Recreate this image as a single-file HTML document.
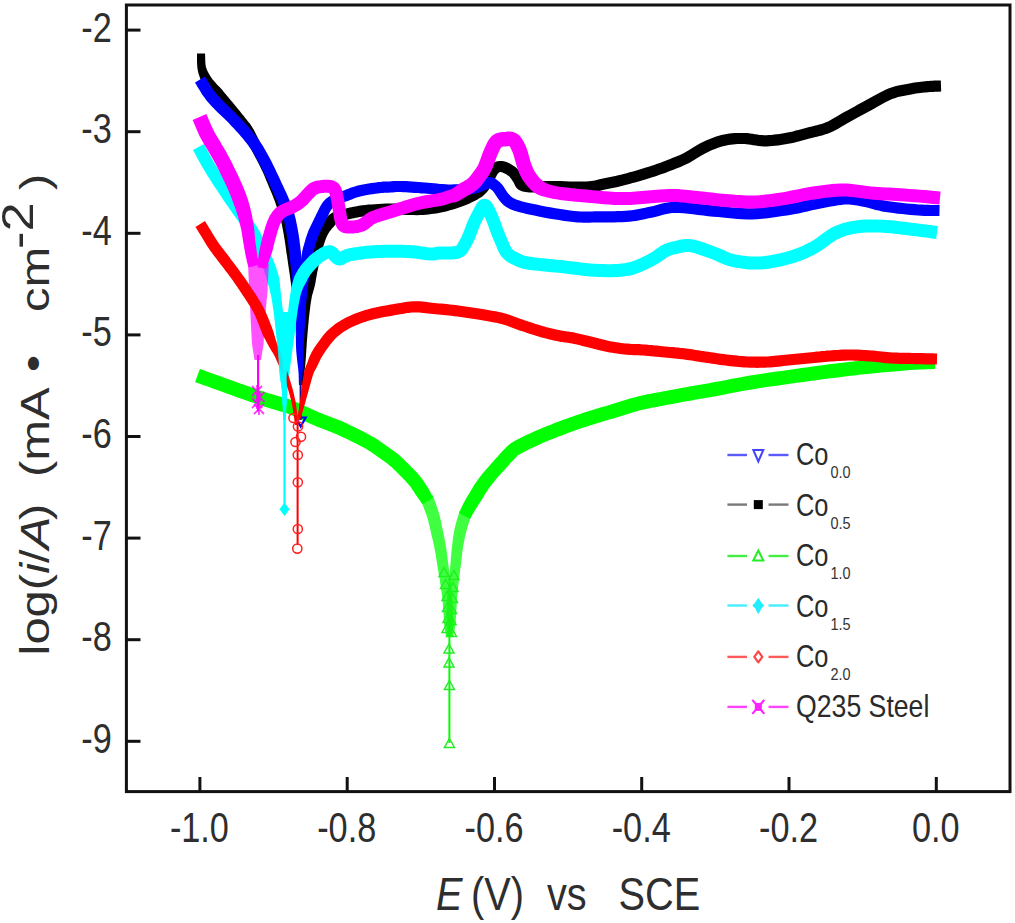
<!DOCTYPE html>
<html><head><meta charset="utf-8"><style>
html,body{margin:0;padding:0;background:#fff;}
svg{display:block;}
text{font-family:"Liberation Sans",sans-serif;fill:#2e2e2e;}
.t{font-size:42.3px;}
.xt{font-size:45.5px;}
.yt{font-size:41.5px;}
.lg{font-size:31px;fill:#2a2a2a;}
.lgs{font-size:17px;fill:#333;}
</style></head><body>
<svg width="1015" height="923" viewBox="0 0 1015 923">
<rect width="1015" height="923" fill="#fff"/>
<path d="M195.1,382.1 L197.0,382.8 L199.4,383.6 L202.3,384.7 L205.5,385.8 L209.0,387.1 L212.7,388.4 L216.4,389.8 L220.1,391.1 L224.0,392.5 L228.1,394.0 L232.5,395.6 L236.9,397.2 L241.4,398.8 L245.8,400.3 L249.9,401.8 L253.8,403.1 L257.4,404.3 L260.9,405.5 L264.2,406.5 L267.4,407.5 L270.4,408.4 L273.2,409.2 L275.7,410.0 L278.0,410.7 L279.9,411.3 L281.5,411.7 L282.6,411.9 L283.3,412.1 L283.8,412.2 L284.5,412.4 L285.6,412.8 L287.3,413.5 L289.7,414.5 L292.5,415.7 L295.7,417.1 L299.1,418.7 L302.6,420.3 L306.3,422.0 L309.8,423.6 L313.3,425.0 L316.6,426.4 L320.0,427.7 L323.2,429.0 L326.5,430.2 L329.7,431.5 L332.9,432.7 L336.0,434.0 L339.1,435.4 L342.4,436.9 L345.8,438.5 L349.2,440.2 L352.7,441.9 L356.0,443.6 L359.2,445.2 L362.1,446.7 L364.6,448.1 L366.7,449.3 L368.5,450.4 L370.0,451.3 L371.4,452.2 L372.7,453.2 L374.0,454.1 L375.4,455.1 L377.0,456.2 L378.7,457.4 L380.3,458.5 L381.9,459.7 L383.6,460.8 L385.2,462.0 L386.7,463.1 L388.1,464.3 L389.5,465.4 L390.8,466.5 L392.1,467.6 L393.3,468.8 L394.5,469.9 L395.8,471.1 L397.0,472.4 L398.2,473.6 L399.5,474.9 L400.8,476.3 L402.2,477.6 L403.5,478.9 L404.8,480.3 L406.0,481.6 L407.2,482.9 L408.4,484.2 L409.4,485.4 L410.3,486.6 L411.2,487.8 L412.0,489.0 L412.8,490.2 L413.7,491.5 L414.5,492.7 L415.3,494.0 L416.1,495.3 L417.0,496.5 L417.9,497.7 L418.8,499.0 L419.7,500.3 L420.5,501.5 L421.3,502.6 L421.9,503.5 L422.4,504.2 L433.2,497.8 L432.8,497.0 L432.3,496.0 L431.7,494.8 L431.0,493.5 L430.3,492.1 L429.5,490.6 L428.7,489.1 L427.9,487.7 L427.1,486.5 L426.3,485.2 L425.4,483.9 L424.5,482.5 L423.6,481.0 L422.5,479.6 L421.4,478.1 L420.2,476.6 L419.0,475.1 L417.7,473.6 L416.3,472.1 L414.9,470.6 L413.5,469.2 L412.2,467.8 L410.8,466.4 L409.5,465.1 L408.2,463.8 L406.9,462.5 L405.6,461.2 L404.3,459.9 L402.9,458.6 L401.5,457.3 L400.0,455.9 L398.5,454.6 L396.8,453.3 L395.2,452.0 L393.5,450.7 L391.7,449.5 L390.0,448.2 L388.3,447.1 L386.6,445.9 L385.0,444.8 L383.5,443.7 L382.1,442.7 L380.7,441.7 L379.3,440.7 L377.6,439.6 L375.8,438.5 L373.8,437.2 L371.4,435.9 L368.7,434.4 L365.7,432.8 L362.4,431.1 L359.0,429.4 L355.4,427.6 L351.8,425.9 L348.3,424.2 L344.9,422.6 L341.5,421.1 L338.1,419.8 L334.8,418.4 L331.5,417.2 L328.3,415.9 L325.0,414.7 L321.9,413.4 L318.7,412.2 L315.5,410.7 L312.0,409.2 L308.4,407.6 L304.9,406.0 L301.5,404.4 L298.2,402.9 L295.3,401.6 L292.7,400.5 L290.6,399.7 L288.9,399.1 L287.6,398.7 L286.4,398.4 L285.5,398.2 L284.7,398.1 L283.7,397.8 L282.0,397.3 L279.8,396.6 L277.2,395.8 L274.5,395.0 L271.5,394.1 L268.4,393.2 L265.1,392.1 L261.7,391.0 L258.2,389.9 L254.5,388.6 L250.4,387.1 L246.1,385.6 L241.7,384.0 L237.2,382.4 L232.9,380.8 L228.7,379.3 L224.9,377.9 L221.2,376.6 L217.4,375.2 L213.8,373.9 L210.3,372.7 L207.0,371.5 L204.2,370.5 L201.7,369.6 L199.9,368.9 Z" fill="#00ff00" />
<path d="M470.1,518.9 L470.5,518.1 L471.2,517.0 L471.9,515.7 L472.7,514.3 L473.5,512.8 L474.3,511.4 L475.1,510.0 L475.9,508.8 L476.5,507.7 L477.2,506.7 L477.9,505.6 L478.6,504.5 L479.3,503.5 L480.0,502.4 L480.7,501.3 L481.5,500.1 L482.2,499.0 L482.9,497.8 L483.6,496.7 L484.2,495.6 L484.9,494.5 L485.5,493.4 L486.2,492.4 L486.8,491.4 L487.5,490.4 L488.2,489.3 L488.9,488.3 L489.7,487.3 L490.4,486.3 L491.2,485.3 L491.9,484.3 L492.7,483.3 L493.5,482.4 L494.2,481.4 L495.0,480.5 L495.9,479.5 L496.7,478.5 L497.5,477.6 L498.4,476.6 L499.2,475.6 L500.1,474.7 L500.9,473.8 L501.7,472.8 L502.6,471.9 L503.5,471.0 L504.3,470.0 L505.2,469.1 L506.1,468.1 L507.0,467.0 L507.9,466.0 L508.8,465.0 L509.6,464.0 L510.5,463.1 L511.3,462.2 L512.1,461.3 L513.0,460.4 L514.0,459.4 L514.9,458.4 L515.7,457.6 L516.3,456.9 L517.0,456.2 L517.8,455.6 L518.8,454.8 L520.1,454.0 L521.9,453.0 L523.9,451.9 L526.2,450.7 L528.6,449.5 L531.3,448.2 L534.0,446.9 L536.8,445.7 L539.6,444.4 L542.5,443.1 L545.6,441.8 L548.7,440.5 L551.9,439.2 L555.2,437.9 L558.5,436.6 L561.8,435.4 L565.0,434.2 L568.1,433.0 L571.3,431.8 L574.4,430.7 L577.6,429.6 L580.7,428.5 L583.8,427.4 L587.0,426.4 L590.1,425.4 L593.3,424.4 L596.5,423.4 L599.6,422.4 L602.8,421.5 L606.0,420.6 L609.2,419.6 L612.5,418.7 L615.7,417.7 L619.0,416.7 L622.2,415.7 L625.4,414.7 L628.6,413.7 L631.7,412.7 L634.8,411.8 L637.9,410.9 L641.0,410.1 L644.1,409.4 L647.2,408.7 L650.3,408.0 L653.5,407.4 L656.6,406.9 L659.8,406.3 L663.1,405.7 L666.3,405.1 L669.5,404.5 L672.7,403.9 L675.9,403.3 L679.0,402.7 L682.2,402.1 L685.4,401.5 L688.6,401.0 L691.7,400.4 L694.8,399.8 L697.9,399.3 L700.8,398.8 L703.9,398.3 L706.9,397.7 L710.2,397.2 L713.6,396.5 L717.3,395.9 L721.1,395.2 L725.0,394.4 L729.0,393.6 L733.2,392.8 L737.5,392.0 L742.1,391.1 L747.0,390.3 L752.1,389.4 L757.7,388.5 L763.8,387.6 L770.1,386.6 L776.7,385.7 L783.5,384.7 L790.2,383.8 L796.9,382.8 L803.5,381.9 L809.9,381.1 L816.3,380.2 L822.6,379.3 L829.0,378.5 L835.4,377.7 L841.8,376.9 L848.1,376.1 L854.5,375.4 L861.0,374.6 L867.7,373.9 L874.6,373.3 L881.3,372.6 L888.0,372.0 L894.3,371.4 L900.2,370.9 L905.5,370.5 L910.4,370.1 L915.1,369.8 L919.5,369.6 L923.5,369.4 L927.1,369.3 L930.4,369.2 L933.1,369.1 L935.3,369.0 L934.7,355.0 L932.6,355.1 L929.9,355.2 L926.6,355.3 L922.9,355.4 L918.8,355.6 L914.3,355.9 L909.5,356.2 L904.5,356.5 L899.0,357.0 L893.1,357.5 L886.7,358.0 L880.0,358.7 L873.2,359.3 L866.3,360.0 L859.5,360.7 L852.9,361.4 L846.5,362.2 L840.0,363.0 L833.6,363.8 L827.2,364.6 L820.8,365.4 L814.4,366.3 L808.0,367.2 L801.5,368.1 L795.0,369.0 L788.3,369.9 L781.5,370.9 L774.7,371.8 L768.1,372.8 L761.7,373.8 L755.6,374.7 L749.9,375.6 L744.6,376.5 L739.6,377.4 L735.0,378.2 L730.5,379.1 L726.4,379.9 L722.4,380.7 L718.5,381.4 L714.7,382.1 L711.1,382.8 L707.7,383.4 L704.5,383.9 L701.5,384.5 L698.4,385.0 L695.4,385.5 L692.4,386.0 L689.3,386.6 L686.1,387.2 L682.9,387.8 L679.7,388.3 L676.5,388.9 L673.3,389.5 L670.1,390.1 L666.9,390.7 L663.7,391.3 L660.5,391.9 L657.3,392.5 L654.1,393.1 L650.9,393.7 L647.6,394.3 L644.3,395.0 L641.0,395.7 L637.6,396.5 L634.3,397.4 L630.9,398.3 L627.7,399.3 L624.4,400.3 L621.2,401.3 L618.0,402.3 L614.8,403.3 L611.7,404.3 L608.5,405.2 L605.3,406.2 L602.1,407.1 L598.9,408.1 L595.6,409.0 L592.4,410.0 L589.1,411.0 L585.9,412.0 L582.6,413.1 L579.4,414.2 L576.2,415.3 L572.9,416.4 L569.7,417.5 L566.5,418.7 L563.3,419.8 L560.0,421.0 L556.8,422.3 L553.4,423.6 L550.1,424.9 L546.7,426.2 L543.4,427.6 L540.1,428.9 L537.0,430.3 L534.0,431.6 L531.0,432.9 L528.1,434.2 L525.3,435.6 L522.5,436.9 L519.9,438.2 L517.3,439.5 L515.0,440.8 L512.9,442.0 L510.9,443.3 L509.2,444.5 L507.8,445.7 L506.5,446.9 L505.5,448.0 L504.6,448.9 L503.8,449.7 L503.0,450.6 L502.0,451.6 L501.0,452.7 L500.0,453.8 L499.1,454.8 L498.2,455.9 L497.3,456.9 L496.5,457.8 L495.7,458.7 L494.9,459.6 L494.0,460.6 L493.1,461.5 L492.3,462.5 L491.4,463.4 L490.5,464.4 L489.6,465.4 L488.8,466.4 L487.9,467.4 L487.0,468.4 L486.1,469.4 L485.2,470.4 L484.4,471.4 L483.5,472.5 L482.6,473.6 L481.7,474.7 L480.9,475.8 L480.0,476.8 L479.2,477.9 L478.4,479.1 L477.6,480.2 L476.8,481.3 L476.0,482.5 L475.2,483.6 L474.4,484.8 L473.6,486.0 L472.9,487.2 L472.2,488.4 L471.5,489.5 L470.8,490.7 L470.2,491.8 L469.5,492.9 L468.9,493.9 L468.2,495.0 L467.6,496.1 L466.9,497.3 L466.2,498.4 L465.5,499.6 L464.8,500.9 L464.1,502.2 L463.4,503.6 L462.6,505.2 L461.9,506.8 L461.1,508.3 L460.4,509.8 L459.8,511.2 L459.3,512.3 L458.9,513.1 Z" fill="#00ff00" />
<path d="M420.4,499.3 L421.0,500.7 L421.7,502.5 L422.6,504.7 L423.5,507.2 L424.5,509.7 L425.4,512.2 L426.3,514.6 L427.0,516.8 L427.6,518.8 L428.2,520.8 L428.7,522.9 L429.2,524.9 L429.7,527.0 L430.2,529.0 L430.6,531.1 L431.1,533.3 L431.6,535.4 L432.1,537.5 L432.6,539.6 L433.1,541.7 L433.6,543.8 L434.0,545.9 L434.4,547.9 L434.8,550.0 L435.2,552.0 L435.6,554.1 L435.9,556.2 L436.2,558.3 L436.6,560.4 L436.9,562.5 L437.2,564.7 L437.6,566.8 L437.9,568.9 L438.3,571.1 L438.6,573.2 L439.0,575.3 L439.3,577.4 L439.7,579.5 L440.0,581.6 L440.3,583.7 L440.6,585.8 L440.9,587.8 L441.2,589.8 L441.5,591.7 L441.8,593.7 L442.0,595.8 L442.3,598.0 L442.5,600.4 L442.8,603.0 L443.0,606.0 L443.2,609.2 L443.4,612.5 L443.6,615.8 L443.8,618.9 L443.9,621.7 L444.1,624.2 L444.4,626.3 L444.6,628.3 L444.9,630.0 L445.1,631.6 L445.3,633.0 L445.6,634.2 L445.8,635.3 L446.0,636.1 L452.0,635.9 L452.2,635.1 L452.3,634.0 L452.5,632.8 L452.6,631.4 L452.8,629.8 L452.9,628.0 L453.0,626.0 L453.1,623.8 L453.1,621.4 L453.0,618.5 L453.0,615.4 L452.9,612.1 L452.8,608.8 L452.7,605.5 L452.6,602.4 L452.5,599.6 L452.3,597.1 L452.1,594.7 L451.9,592.5 L451.7,590.4 L451.4,588.4 L451.2,586.4 L451.0,584.4 L450.7,582.3 L450.4,580.1 L450.2,578.0 L449.9,575.8 L449.6,573.7 L449.3,571.6 L449.0,569.4 L448.7,567.3 L448.4,565.2 L448.2,563.1 L447.9,561.0 L447.6,558.9 L447.4,556.7 L447.1,554.6 L446.8,552.4 L446.5,550.2 L446.2,548.0 L445.8,545.8 L445.4,543.6 L445.0,541.5 L444.6,539.3 L444.2,537.1 L443.7,535.0 L443.3,532.8 L442.9,530.7 L442.4,528.6 L442.0,526.5 L441.6,524.4 L441.2,522.2 L440.7,520.0 L440.2,517.8 L439.6,515.5 L439.0,513.2 L438.2,510.7 L437.4,508.1 L436.4,505.4 L435.5,502.7 L434.6,500.2 L433.7,498.0 L433.1,496.1 L432.6,494.7 Z" fill="#00ff00" opacity="0.75"/>
<path d="M459.5,511.2 L459.2,512.5 L458.7,514.2 L458.0,516.3 L457.3,518.6 L456.6,521.1 L455.9,523.7 L455.2,526.2 L454.7,528.6 L454.2,530.8 L453.8,533.0 L453.5,535.2 L453.1,537.4 L452.8,539.6 L452.6,541.8 L452.3,544.0 L452.0,546.3 L451.8,548.6 L451.5,551.1 L451.3,553.5 L451.1,556.0 L450.9,558.4 L450.7,560.8 L450.5,563.2 L450.3,565.4 L450.1,567.6 L449.8,569.8 L449.6,571.9 L449.4,574.0 L449.2,576.1 L448.9,578.2 L448.7,580.3 L448.5,582.5 L448.3,584.6 L448.1,586.6 L447.9,588.6 L447.7,590.6 L447.5,592.7 L447.3,594.9 L447.2,597.2 L447.0,599.7 L446.9,602.5 L446.8,605.6 L446.8,608.8 L446.7,612.1 L446.7,615.4 L446.6,618.5 L446.6,621.3 L446.5,623.8 L446.6,625.9 L446.6,627.8 L446.7,629.6 L446.7,631.2 L446.8,632.6 L446.8,633.8 L446.9,634.9 L447.0,635.7 L453.0,636.3 L453.3,635.5 L453.5,634.5 L453.8,633.3 L454.2,631.8 L454.5,630.2 L454.8,628.4 L455.2,626.4 L455.5,624.2 L455.7,621.7 L455.9,618.9 L456.0,615.7 L456.2,612.5 L456.4,609.2 L456.6,606.0 L456.8,603.0 L457.0,600.3 L457.1,597.9 L457.3,595.6 L457.5,593.5 L457.7,591.5 L457.9,589.6 L458.1,587.6 L458.3,585.6 L458.5,583.5 L458.7,581.4 L459.0,579.4 L459.3,577.3 L459.6,575.2 L459.8,573.1 L460.1,571.0 L460.4,568.8 L460.7,566.6 L461.0,564.2 L461.3,561.9 L461.5,559.4 L461.8,557.0 L462.1,554.6 L462.3,552.3 L462.6,550.0 L463.0,547.7 L463.3,545.6 L463.7,543.5 L464.1,541.4 L464.5,539.3 L464.9,537.3 L465.3,535.4 L465.8,533.4 L466.3,531.4 L466.9,529.3 L467.6,527.0 L468.3,524.6 L469.0,522.2 L469.8,520.0 L470.5,517.9 L471.0,516.1 L471.5,514.8 Z" fill="#00ff00" opacity="0.75"/>
<line x1="449.4" y1="615" x2="449.4" y2="743" stroke="#00ff00" stroke-width="2"/>
<path d="M444.0,567.5 L449.0,576.5 L439.0,576.5 Z" fill="none" stroke="#22ee22" stroke-width="1.5"/>
<path d="M445.5,579.5 L450.5,588.5 L440.5,588.5 Z" fill="none" stroke="#22ee22" stroke-width="1.5"/>
<path d="M447.0,591.5 L452.0,600.5 L442.0,600.5 Z" fill="none" stroke="#22ee22" stroke-width="1.5"/>
<path d="M447.5,602.5 L452.5,611.5 L442.5,611.5 Z" fill="none" stroke="#22ee22" stroke-width="1.5"/>
<path d="M448.0,613.5 L453.0,622.5 L443.0,622.5 Z" fill="none" stroke="#22ee22" stroke-width="1.5"/>
<path d="M447.0,623.5 L452.0,632.5 L442.0,632.5 Z" fill="none" stroke="#22ee22" stroke-width="1.5"/>
<path d="M454.0,570.5 L459.0,579.5 L449.0,579.5 Z" fill="none" stroke="#22ee22" stroke-width="1.5"/>
<path d="M453.0,582.5 L458.0,591.5 L448.0,591.5 Z" fill="none" stroke="#22ee22" stroke-width="1.5"/>
<path d="M452.5,593.5 L457.5,602.5 L447.5,602.5 Z" fill="none" stroke="#22ee22" stroke-width="1.5"/>
<path d="M451.5,604.5 L456.5,613.5 L446.5,613.5 Z" fill="none" stroke="#22ee22" stroke-width="1.5"/>
<path d="M451.0,615.5 L456.0,624.5 L446.0,624.5 Z" fill="none" stroke="#22ee22" stroke-width="1.5"/>
<path d="M451.5,627.5 L456.5,636.5 L446.5,636.5 Z" fill="none" stroke="#22ee22" stroke-width="1.5"/>
<path d="M449.0,644.0 L454.0,653.0 L444.0,653.0 Z" fill="none" stroke="#22ee22" stroke-width="1.5"/>
<path d="M449.0,657.9 L454.0,666.9 L444.0,666.9 Z" fill="none" stroke="#22ee22" stroke-width="1.5"/>
<path d="M449.4,680.5 L454.4,689.5 L444.4,689.5 Z" fill="none" stroke="#22ee22" stroke-width="1.5"/>
<path d="M449.4,738.5 L454.4,747.5 L444.4,747.5 Z" fill="none" stroke="#22ee22" stroke-width="1.5"/>
<path d="M197.0,53.6 L197.0,54.6 L197.0,56.0 L197.0,57.8 L197.0,59.7 L197.0,61.8 L197.1,63.8 L197.2,65.8 L197.4,67.7 L197.6,69.3 L197.9,70.9 L198.3,72.4 L198.6,73.9 L199.1,75.3 L199.5,76.6 L200.0,77.9 L200.5,79.2 L201.1,80.5 L201.7,81.8 L202.4,83.1 L203.1,84.3 L203.8,85.5 L204.6,86.7 L205.3,87.8 L206.1,89.0 L207.1,90.1 L208.0,91.2 L209.0,92.3 L210.0,93.2 L210.9,94.2 L211.7,95.0 L212.5,95.9 L213.3,96.7 L214.0,97.6 L214.8,98.5 L215.6,99.4 L216.3,100.4 L217.1,101.3 L217.9,102.3 L218.7,103.3 L219.5,104.3 L220.3,105.2 L221.1,106.2 L221.9,107.1 L222.6,108.0 L223.4,108.9 L224.2,109.8 L224.9,110.7 L225.7,111.6 L226.5,112.5 L227.3,113.5 L228.1,114.5 L228.9,115.5 L229.7,116.5 L230.5,117.5 L231.3,118.5 L232.1,119.5 L232.9,120.5 L233.7,121.4 L234.5,122.4 L235.2,123.3 L235.9,124.2 L236.7,125.1 L237.4,126.0 L238.1,126.9 L238.8,127.9 L239.5,128.7 L240.2,129.5 L240.7,130.2 L241.3,131.0 L241.9,131.8 L242.5,132.7 L243.2,133.8 L244.0,135.2 L244.8,136.9 L245.8,138.7 L246.8,140.7 L247.8,142.8 L248.8,144.8 L249.8,146.7 L250.7,148.6 L251.6,150.2 L252.4,151.8 L253.2,153.3 L254.0,154.8 L254.8,156.2 L255.5,157.7 L256.3,159.1 L257.0,160.6 L257.8,162.1 L258.6,163.6 L259.3,165.1 L260.1,166.5 L260.8,168.0 L261.5,169.5 L262.2,170.9 L262.9,172.3 L263.5,173.7 L264.2,175.2 L264.7,176.6 L265.3,178.0 L265.9,179.5 L266.5,181.0 L267.2,182.5 L267.8,184.1 L268.5,185.8 L269.2,187.5 L270.0,189.2 L270.7,190.9 L271.4,192.6 L272.1,194.3 L272.8,195.9 L273.4,197.5 L274.0,199.1 L274.5,200.6 L275.1,202.1 L275.6,203.6 L276.1,205.1 L276.6,206.6 L277.2,208.1 L277.7,209.7 L278.2,211.3 L278.7,213.0 L279.2,214.7 L279.7,216.4 L280.2,218.0 L280.7,219.8 L281.1,221.5 L281.5,223.3 L282.0,225.1 L282.3,226.9 L282.7,228.9 L283.1,230.8 L283.4,232.8 L283.8,234.8 L284.1,236.9 L284.5,238.9 L284.8,241.0 L285.1,243.0 L285.4,245.1 L285.7,247.2 L286.0,249.4 L286.3,251.5 L286.6,253.7 L287.0,255.8 L287.3,257.9 L287.6,260.0 L287.9,262.2 L288.2,264.3 L288.5,266.4 L288.8,268.5 L289.1,270.6 L289.5,272.8 L289.8,275.0 L290.1,277.2 L290.4,279.4 L290.7,281.6 L291.0,283.8 L291.3,286.1 L291.6,288.4 L291.9,290.7 L292.3,293.1 L292.6,295.6 L292.9,298.1 L293.3,300.6 L293.6,303.1 L293.9,305.6 L294.2,308.1 L294.4,310.6 L294.8,313.0 L295.2,315.5 L295.5,318.1 L295.8,320.6 L296.2,323.1 L296.5,325.6 L296.7,328.0 L297.0,330.2 L297.2,332.4 L297.3,334.5 L297.5,336.6 L297.6,338.6 L297.7,340.5 L297.8,342.4 L297.9,344.2 L298.0,346.1 L298.2,347.8 L298.3,349.5 L298.4,351.1 L298.6,352.7 L298.7,354.2 L298.8,355.8 L298.9,357.3 L299.0,358.9 L299.1,360.5 L299.2,362.2 L299.2,363.8 L299.3,365.4 L299.3,367.0 L299.4,368.7 L299.4,370.3 L299.5,371.9 L299.5,373.6 L299.5,375.5 L299.5,377.4 L299.5,379.2 L299.5,381.0 L299.5,382.6 L299.5,383.9 L299.5,384.9 L302.5,385.1 L302.6,384.1 L302.7,382.7 L302.8,381.1 L303.0,379.4 L303.1,377.5 L303.2,375.6 L303.4,373.8 L303.5,372.1 L303.7,370.5 L303.9,368.8 L304.1,367.2 L304.3,365.6 L304.5,364.0 L304.7,362.3 L304.8,360.7 L305.0,359.1 L305.2,357.4 L305.3,355.9 L305.4,354.3 L305.6,352.7 L305.7,351.1 L305.8,349.4 L305.9,347.7 L306.0,345.9 L306.0,344.1 L306.1,342.2 L306.1,340.3 L306.1,338.3 L306.1,336.3 L306.1,334.2 L306.0,332.0 L306.0,329.8 L306.0,327.4 L306.0,325.0 L306.0,322.5 L305.9,319.9 L305.9,317.3 L305.8,314.6 L305.7,312.0 L305.6,309.4 L305.3,306.9 L305.0,304.3 L304.7,301.7 L304.4,299.2 L304.0,296.6 L303.7,294.1 L303.4,291.7 L303.1,289.3 L302.7,286.9 L302.4,284.6 L302.1,282.3 L301.8,280.0 L301.5,277.8 L301.2,275.6 L300.9,273.4 L300.5,271.2 L300.2,269.0 L299.9,266.9 L299.6,264.7 L299.3,262.6 L299.0,260.5 L298.7,258.4 L298.4,256.3 L298.0,254.2 L297.7,252.1 L297.4,249.9 L297.1,247.8 L296.8,245.6 L296.5,243.5 L296.2,241.3 L295.9,239.2 L295.5,237.1 L295.2,235.0 L294.8,232.9 L294.5,230.9 L294.1,228.8 L293.7,226.8 L293.3,224.7 L292.9,222.7 L292.5,220.7 L292.0,218.8 L291.5,216.9 L291.0,215.0 L290.5,213.2 L289.9,211.4 L289.4,209.7 L288.9,208.0 L288.3,206.3 L287.8,204.6 L287.3,203.0 L286.7,201.4 L286.2,199.9 L285.6,198.3 L285.0,196.7 L284.4,195.1 L283.8,193.5 L283.2,191.8 L282.5,190.0 L281.7,188.3 L281.0,186.5 L280.3,184.8 L279.5,183.1 L278.8,181.5 L278.2,179.9 L277.5,178.3 L276.9,176.8 L276.3,175.3 L275.7,173.8 L275.1,172.3 L274.5,170.8 L273.8,169.2 L273.1,167.7 L272.4,166.1 L271.6,164.5 L270.8,163.0 L270.1,161.5 L269.3,159.9 L268.5,158.4 L267.8,156.9 L267.0,155.4 L266.2,153.9 L265.4,152.5 L264.7,151.0 L263.9,149.6 L263.1,148.1 L262.3,146.6 L261.5,145.0 L260.7,143.4 L259.8,141.7 L258.8,139.8 L257.8,137.8 L256.8,135.7 L255.8,133.7 L254.8,131.7 L253.8,129.8 L252.8,128.2 L251.9,126.7 L251.1,125.4 L250.3,124.3 L249.6,123.3 L248.8,122.5 L248.2,121.7 L247.6,120.9 L246.9,120.1 L246.2,119.1 L245.4,118.2 L244.7,117.2 L243.9,116.3 L243.2,115.3 L242.4,114.4 L241.6,113.4 L240.9,112.5 L240.1,111.5 L239.3,110.5 L238.4,109.5 L237.6,108.5 L236.8,107.4 L236.0,106.4 L235.1,105.4 L234.3,104.4 L233.5,103.5 L232.7,102.5 L231.9,101.6 L231.1,100.7 L230.4,99.8 L229.6,98.9 L228.9,98.0 L228.1,97.1 L227.4,96.2 L226.6,95.3 L225.8,94.3 L225.1,93.4 L224.3,92.4 L223.4,91.4 L222.6,90.3 L221.7,89.3 L220.7,88.2 L219.8,87.2 L218.8,86.3 L217.9,85.4 L217.1,84.5 L216.3,83.7 L215.6,82.8 L214.9,82.0 L214.1,81.2 L213.4,80.3 L212.6,79.4 L211.9,78.5 L211.3,77.6 L210.7,76.7 L210.1,75.8 L209.5,74.8 L208.9,73.8 L208.4,72.8 L207.8,71.8 L207.4,70.8 L206.9,69.7 L206.5,68.6 L206.1,67.5 L205.8,66.3 L205.6,64.9 L205.4,63.3 L205.3,61.4 L205.2,59.5 L205.2,57.7 L205.1,56.0 L205.1,54.5 L205.0,53.4 Z" fill="#000" />
<path d="M303.5,385.1 L303.6,384.1 L303.7,382.7 L303.8,381.1 L304.0,379.4 L304.1,377.5 L304.2,375.6 L304.4,373.8 L304.5,372.1 L304.7,370.5 L304.8,369.0 L305.0,367.5 L305.1,366.0 L305.3,364.4 L305.4,362.8 L305.6,361.0 L305.7,359.1 L305.9,357.0 L306.0,354.8 L306.2,352.4 L306.3,350.0 L306.5,347.5 L306.7,345.1 L306.8,342.6 L307.0,340.1 L307.2,337.7 L307.4,335.3 L307.6,332.8 L307.8,330.4 L308.0,327.9 L308.2,325.4 L308.5,322.9 L308.7,320.3 L309.0,317.6 L309.3,314.8 L309.6,311.9 L310.0,309.0 L310.3,306.2 L310.7,303.5 L311.1,301.0 L311.5,298.7 L311.8,296.7 L312.2,295.0 L312.7,293.4 L313.1,291.9 L313.6,290.3 L314.0,288.7 L314.5,287.0 L315.0,285.1 L315.4,283.1 L315.7,281.2 L316.0,279.3 L316.3,277.4 L316.7,275.5 L317.0,273.5 L317.4,271.4 L317.9,269.2 L318.4,266.7 L319.0,263.9 L319.6,261.1 L320.3,258.1 L321.0,255.2 L321.7,252.4 L322.3,249.9 L323.0,247.5 L323.6,245.5 L324.2,243.5 L324.8,241.7 L325.4,240.1 L326.0,238.6 L326.6,237.1 L327.2,235.8 L327.8,234.6 L328.4,233.4 L329.0,232.5 L329.6,231.6 L330.2,230.7 L330.9,229.9 L331.6,229.0 L332.4,228.1 L333.2,227.2 L334.1,226.2 L334.8,225.3 L335.5,224.5 L336.1,223.8 L336.7,223.3 L337.2,222.8 L337.8,222.4 L338.5,222.0 L339.4,221.6 L340.5,221.2 L341.8,220.8 L343.2,220.5 L344.8,220.1 L346.5,219.7 L348.3,219.4 L350.2,219.0 L352.1,218.6 L353.9,218.2 L355.8,217.8 L357.7,217.4 L359.7,217.0 L361.8,216.7 L364.1,216.4 L366.6,216.1 L369.4,215.8 L372.5,215.6 L375.8,215.3 L379.2,215.1 L382.7,214.9 L386.2,214.8 L389.7,214.7 L393.1,214.6 L396.4,214.6 L399.8,214.7 L403.2,214.8 L406.7,214.9 L410.2,215.0 L413.6,215.1 L417.0,215.2 L420.2,215.1 L423.2,214.9 L426.0,214.7 L428.7,214.5 L431.3,214.1 L433.8,213.8 L436.2,213.4 L438.7,213.0 L441.1,212.5 L443.6,212.0 L446.1,211.4 L448.5,210.8 L450.9,210.1 L453.2,209.4 L455.5,208.7 L457.7,208.0 L459.8,207.3 L461.9,206.6 L463.9,205.8 L465.9,205.0 L467.8,204.2 L469.6,203.4 L471.3,202.6 L473.0,201.8 L474.6,201.0 L476.1,200.2 L477.5,199.4 L478.9,198.6 L480.2,197.8 L481.6,196.9 L482.9,195.9 L484.2,194.8 L485.5,193.6 L486.7,192.3 L487.8,190.9 L488.8,189.5 L489.7,188.1 L490.5,186.7 L491.3,185.4 L492.0,184.2 L492.8,182.9 L493.7,181.4 L494.5,179.7 L495.3,178.2 L496.1,176.7 L496.7,175.4 L497.4,174.3 L497.9,173.6 L498.3,173.2 L498.7,172.8 L499.1,172.5 L499.4,172.3 L499.7,172.2 L500.0,172.1 L500.3,172.1 L500.7,172.1 L501.1,172.1 L501.7,172.3 L502.5,172.5 L503.5,172.9 L504.6,173.5 L505.8,174.1 L506.9,174.8 L507.9,175.5 L508.7,176.1 L509.3,176.6 L509.8,177.1 L510.3,177.8 L510.9,178.5 L511.5,179.3 L512.1,180.3 L512.8,181.3 L513.4,182.1 L513.7,182.7 L514.0,183.2 L514.3,184.0 L514.8,185.1 L515.5,186.4 L516.6,187.9 L518.2,189.4 L520.1,190.5 L521.9,191.3 L523.8,191.8 L525.6,192.1 L527.4,192.3 L529.2,192.4 L531.1,192.5 L532.9,192.5 L534.9,192.6 L536.9,192.6 L538.9,192.6 L540.9,192.5 L543.0,192.4 L545.1,192.3 L547.5,192.2 L550.1,192.1 L553.0,192.1 L556.4,192.1 L560.5,192.3 L564.9,192.4 L569.6,192.6 L574.3,192.7 L578.8,192.8 L583.0,192.8 L586.8,192.7 L589.9,192.5 L592.7,192.2 L595.1,191.8 L597.2,191.3 L599.2,190.9 L601.1,190.4 L603.0,189.9 L605.1,189.5 L607.5,189.0 L610.0,188.5 L612.6,188.0 L615.2,187.4 L617.9,186.9 L620.6,186.2 L623.5,185.6 L626.4,184.8 L629.5,184.0 L632.7,183.1 L636.0,182.2 L639.4,181.2 L642.8,180.2 L646.1,179.2 L649.2,178.3 L652.2,177.3 L655.0,176.4 L657.7,175.5 L660.2,174.6 L662.7,173.7 L665.1,172.9 L667.5,172.0 L669.8,171.1 L672.0,170.2 L674.2,169.4 L676.3,168.5 L678.4,167.7 L680.5,166.9 L682.5,166.0 L684.7,165.1 L686.9,164.0 L689.2,162.9 L691.6,161.6 L694.1,160.1 L696.5,158.6 L699.0,157.1 L701.4,155.6 L703.7,154.2 L706.0,153.0 L708.2,151.9 L710.5,150.8 L712.8,149.8 L715.1,148.9 L717.4,148.1 L719.6,147.3 L721.9,146.6 L724.2,146.0 L726.4,145.5 L728.6,145.1 L730.8,144.7 L733.0,144.5 L735.2,144.3 L737.5,144.1 L739.8,144.1 L742.1,144.1 L744.3,144.1 L746.4,144.2 L748.6,144.5 L750.8,144.8 L753.1,145.2 L755.6,145.6 L758.3,146.0 L761.1,146.3 L763.9,146.4 L766.8,146.4 L769.6,146.2 L772.5,146.0 L775.4,145.8 L778.3,145.4 L781.2,145.0 L784.1,144.6 L787.0,144.1 L789.9,143.6 L792.8,142.9 L795.7,142.2 L798.6,141.5 L801.4,140.7 L804.1,140.0 L806.8,139.2 L809.4,138.5 L811.9,137.9 L814.5,137.3 L817.0,136.7 L819.6,136.0 L822.2,135.4 L824.8,134.6 L827.4,133.7 L830.1,132.7 L832.8,131.5 L835.3,130.2 L837.8,128.9 L840.2,127.5 L842.6,126.1 L844.9,124.7 L847.3,123.3 L849.7,121.9 L852.3,120.5 L855.0,119.0 L857.7,117.5 L860.5,116.0 L863.3,114.4 L866.1,112.9 L868.9,111.4 L871.7,109.9 L874.5,108.4 L877.3,106.8 L880.0,105.2 L882.7,103.7 L885.4,102.3 L888.0,100.9 L890.5,99.8 L893.0,98.7 L895.5,97.9 L898.0,97.1 L900.7,96.5 L903.4,95.9 L906.0,95.4 L908.7,94.9 L911.3,94.5 L913.8,94.0 L916.0,93.6 L918.2,93.3 L920.3,93.0 L922.3,92.8 L924.3,92.6 L926.2,92.4 L928.0,92.2 L929.8,92.1 L931.5,91.9 L933.1,91.9 L934.8,91.8 L936.4,91.7 L937.8,91.7 L939.1,91.7 L940.3,91.6 L941.2,91.6 L940.8,80.4 L940.0,80.4 L938.9,80.5 L937.5,80.5 L936.0,80.5 L934.3,80.6 L932.5,80.7 L930.7,80.8 L928.8,80.9 L927.0,81.1 L925.1,81.2 L923.1,81.4 L921.1,81.7 L918.9,81.9 L916.6,82.2 L914.3,82.6 L911.8,83.0 L909.4,83.4 L906.8,83.9 L904.0,84.4 L901.1,84.9 L898.2,85.6 L895.1,86.3 L892.1,87.2 L889.0,88.3 L886.0,89.5 L883.1,90.9 L880.1,92.4 L877.3,93.9 L874.5,95.5 L871.7,97.1 L869.0,98.6 L866.3,100.1 L863.6,101.6 L860.8,103.1 L857.9,104.6 L855.1,106.2 L852.3,107.7 L849.6,109.2 L846.9,110.7 L844.3,112.1 L841.7,113.6 L839.2,115.0 L836.8,116.5 L834.5,117.8 L832.3,119.1 L830.2,120.3 L828.0,121.4 L825.9,122.3 L823.7,123.2 L821.5,123.9 L819.2,124.6 L816.8,125.2 L814.4,125.8 L811.9,126.4 L809.3,127.0 L806.6,127.7 L803.9,128.4 L801.2,129.2 L798.4,129.9 L795.7,130.6 L793.0,131.4 L790.3,132.0 L787.6,132.6 L785.0,133.1 L782.3,133.5 L779.6,133.9 L776.9,134.3 L774.3,134.6 L771.6,134.9 L769.0,135.1 L766.5,135.2 L764.1,135.2 L761.8,135.1 L759.6,134.9 L757.4,134.6 L755.0,134.2 L752.6,133.8 L750.1,133.4 L747.4,133.1 L744.7,132.9 L742.1,132.9 L739.6,132.9 L737.0,133.0 L734.5,133.1 L731.9,133.3 L729.3,133.6 L726.7,134.0 L724.0,134.5 L721.4,135.1 L718.8,135.8 L716.2,136.6 L713.6,137.5 L711.0,138.5 L708.5,139.5 L706.0,140.6 L703.4,141.7 L700.8,143.1 L698.1,144.5 L695.6,146.0 L693.1,147.6 L690.7,149.1 L688.3,150.5 L686.1,151.8 L684.0,152.9 L682.0,153.9 L680.0,154.9 L678.1,155.7 L676.2,156.5 L674.2,157.3 L672.2,158.1 L670.2,158.9 L668.0,159.8 L665.7,160.7 L663.5,161.5 L661.2,162.4 L658.9,163.2 L656.5,164.1 L654.1,164.9 L651.5,165.8 L648.8,166.7 L645.9,167.6 L642.8,168.5 L639.6,169.5 L636.3,170.5 L633.0,171.4 L629.7,172.3 L626.6,173.2 L623.6,174.0 L620.8,174.7 L618.1,175.3 L615.4,175.9 L612.8,176.5 L610.3,177.0 L607.8,177.5 L605.3,178.0 L602.9,178.5 L600.5,179.0 L598.4,179.5 L596.6,180.0 L594.8,180.4 L593.1,180.8 L591.2,181.1 L588.9,181.3 L586.2,181.5 L582.9,181.6 L579.0,181.6 L574.6,181.5 L570.0,181.4 L565.3,181.2 L560.8,181.1 L556.7,180.9 L553.0,180.9 L549.9,180.9 L547.1,181.0 L544.6,181.1 L542.4,181.2 L540.4,181.3 L538.6,181.4 L536.9,181.4 L535.1,181.4 L533.3,181.3 L531.5,181.3 L529.9,181.2 L528.4,181.1 L527.1,181.0 L526.1,180.8 L525.3,180.6 L524.9,180.5 L524.9,180.5 L525.1,180.6 L525.0,180.5 L524.9,180.2 L524.6,179.5 L524.1,178.4 L523.4,177.1 L522.6,175.9 L522.0,174.9 L521.4,174.1 L520.8,173.1 L520.0,172.0 L519.2,170.9 L518.2,169.7 L517.0,168.4 L515.7,167.3 L514.3,166.3 L512.9,165.4 L511.4,164.4 L509.8,163.6 L508.2,162.8 L506.5,162.0 L504.7,161.5 L502.9,161.1 L501.1,160.9 L499.5,160.9 L497.8,161.2 L496.1,161.6 L494.5,162.2 L493.1,163.1 L491.7,164.0 L490.3,165.2 L489.0,166.7 L487.9,168.4 L486.9,170.0 L486.1,171.6 L485.3,173.2 L484.6,174.6 L483.9,175.9 L483.2,177.1 L482.4,178.4 L481.6,179.8 L480.9,181.0 L480.2,182.2 L479.5,183.2 L478.8,184.2 L478.2,185.0 L477.5,185.8 L476.8,186.5 L476.0,187.1 L475.1,187.7 L474.2,188.4 L473.2,189.0 L472.0,189.6 L470.8,190.3 L469.4,191.0 L468.0,191.8 L466.5,192.5 L464.9,193.2 L463.3,193.9 L461.6,194.7 L459.9,195.4 L458.0,196.0 L456.2,196.7 L454.2,197.4 L452.1,198.0 L450.0,198.7 L447.8,199.3 L445.6,199.9 L443.4,200.5 L441.2,201.0 L438.9,201.5 L436.6,201.9 L434.4,202.4 L432.1,202.7 L429.8,203.0 L427.5,203.3 L425.1,203.6 L422.5,203.8 L419.8,203.9 L416.9,204.0 L413.8,203.9 L410.6,203.8 L407.2,203.7 L403.6,203.6 L400.1,203.5 L396.5,203.4 L392.9,203.4 L389.4,203.5 L385.8,203.6 L382.2,203.8 L378.6,203.9 L375.0,204.2 L371.6,204.4 L368.4,204.6 L365.4,204.9 L362.7,205.2 L360.1,205.6 L357.8,206.0 L355.6,206.4 L353.5,206.8 L351.5,207.2 L349.7,207.6 L347.8,208.0 L346.0,208.4 L344.2,208.8 L342.4,209.2 L340.6,209.6 L338.8,210.0 L337.0,210.6 L335.2,211.2 L333.5,212.0 L331.9,212.9 L330.4,213.9 L329.1,215.0 L328.0,216.0 L327.1,217.1 L326.3,218.1 L325.5,219.0 L324.8,219.8 L324.0,220.7 L323.1,221.7 L322.2,222.7 L321.3,223.9 L320.4,225.1 L319.5,226.4 L318.7,227.9 L317.8,229.4 L317.0,231.1 L316.3,232.7 L315.6,234.4 L314.9,236.2 L314.2,238.1 L313.5,240.1 L312.9,242.2 L312.2,244.5 L311.5,247.0 L310.8,249.7 L310.1,252.6 L309.4,255.6 L308.7,258.6 L308.1,261.5 L307.5,264.3 L306.9,266.8 L306.4,269.2 L306.0,271.5 L305.6,273.6 L305.3,275.6 L305.0,277.5 L304.7,279.3 L304.3,281.1 L304.0,282.9 L303.7,284.6 L303.4,286.2 L303.1,287.7 L302.8,289.4 L302.5,291.1 L302.1,293.0 L301.8,295.0 L301.5,297.3 L301.3,299.8 L301.1,302.5 L300.9,305.3 L300.8,308.2 L300.6,311.2 L300.5,314.1 L300.4,317.0 L300.3,319.7 L300.2,322.3 L300.1,324.9 L300.1,327.5 L300.0,330.0 L300.0,332.5 L300.0,335.0 L300.0,337.4 L300.0,339.9 L300.0,342.4 L300.0,344.9 L300.1,347.4 L300.1,349.9 L300.1,352.3 L300.2,354.6 L300.2,356.8 L300.3,358.9 L300.3,360.8 L300.3,362.6 L300.3,364.2 L300.4,365.8 L300.4,367.3 L300.4,368.8 L300.5,370.3 L300.5,371.9 L300.5,373.6 L300.5,375.5 L300.5,377.4 L300.5,379.2 L300.5,381.0 L300.5,382.6 L300.5,383.9 L300.5,384.9 Z" fill="#000" />
<path d="M195.0,82.6 L195.7,83.7 L196.6,85.3 L197.7,87.2 L199.0,89.3 L200.4,91.6 L201.8,93.9 L203.3,96.1 L204.8,98.1 L206.2,100.0 L207.6,101.7 L209.0,103.3 L210.5,104.9 L211.9,106.4 L213.4,107.9 L214.8,109.4 L216.3,110.9 L217.8,112.5 L219.4,114.0 L221.0,115.6 L222.6,117.1 L224.2,118.6 L225.7,120.1 L227.3,121.6 L228.8,123.1 L230.3,124.7 L231.9,126.4 L233.5,128.0 L235.0,129.7 L236.6,131.4 L238.1,133.1 L239.6,134.8 L241.0,136.4 L242.4,138.1 L243.8,139.7 L245.1,141.4 L246.4,143.0 L247.6,144.6 L248.8,146.3 L250.0,147.9 L251.1,149.5 L252.2,151.1 L253.2,152.7 L254.1,154.3 L255.1,156.0 L256.0,157.7 L256.9,159.3 L257.9,161.1 L258.8,162.8 L259.7,164.5 L260.6,166.2 L261.5,167.9 L262.3,169.7 L263.2,171.4 L264.0,173.1 L264.9,174.9 L265.7,176.5 L266.5,178.2 L267.2,179.8 L268.0,181.4 L268.7,183.0 L269.4,184.6 L270.2,186.2 L270.9,187.8 L271.6,189.5 L272.4,191.1 L273.2,192.8 L274.0,194.4 L274.7,196.0 L275.5,197.6 L276.2,199.2 L276.9,200.8 L277.6,202.3 L278.2,203.9 L278.9,205.5 L279.6,207.0 L280.2,208.5 L280.8,210.1 L281.3,211.6 L281.9,213.1 L282.4,214.7 L282.8,216.4 L283.3,218.1 L283.7,219.8 L284.2,221.6 L284.6,223.5 L285.0,225.3 L285.3,227.2 L285.7,229.1 L286.1,231.0 L286.4,232.9 L286.7,234.8 L287.0,236.8 L287.3,238.7 L287.6,240.7 L287.9,242.8 L288.2,244.8 L288.4,246.8 L288.7,248.9 L288.9,251.0 L289.2,253.1 L289.4,255.2 L289.6,257.4 L289.9,259.5 L290.1,261.7 L290.4,263.8 L290.7,266.0 L290.9,268.1 L291.2,270.2 L291.5,272.3 L291.7,274.3 L291.9,276.4 L292.1,278.5 L292.3,280.6 L292.4,282.7 L292.6,284.8 L292.7,286.9 L292.8,289.0 L292.9,291.3 L293.0,293.7 L293.1,296.2 L293.4,298.9 L293.7,301.7 L294.1,304.6 L294.4,307.6 L294.7,310.7 L294.9,313.8 L295.2,316.9 L295.5,320.0 L295.6,323.3 L295.6,326.7 L295.7,330.2 L295.8,333.7 L295.8,337.1 L295.9,340.4 L295.9,343.4 L296.0,346.0 L296.1,348.3 L296.2,350.3 L296.3,352.0 L296.5,353.5 L296.6,354.9 L296.7,356.2 L296.9,357.6 L297.0,359.1 L297.2,360.7 L297.4,362.4 L297.6,364.0 L297.8,365.6 L298.0,367.2 L298.2,368.8 L298.3,370.4 L298.5,372.0 L298.6,373.7 L298.7,375.6 L298.7,377.4 L298.8,379.3 L298.8,381.1 L298.9,382.7 L298.9,384.0 L299.0,385.0 L302.0,385.0 L302.1,384.0 L302.1,382.7 L302.2,381.1 L302.3,379.3 L302.3,377.4 L302.4,375.5 L302.5,373.7 L302.5,372.0 L302.6,370.3 L302.7,368.7 L302.7,367.0 L302.8,365.4 L302.8,363.8 L302.9,362.1 L302.9,360.5 L303.0,358.9 L303.0,357.3 L303.0,355.9 L303.0,354.5 L303.0,353.2 L303.0,351.7 L303.0,350.1 L303.0,348.2 L303.0,346.0 L303.0,343.3 L303.1,340.4 L303.2,337.1 L303.2,333.7 L303.3,330.2 L303.4,326.7 L303.5,323.2 L303.5,320.0 L303.7,316.8 L303.9,313.7 L304.1,310.5 L304.3,307.4 L304.4,304.4 L304.6,301.4 L304.7,298.5 L304.9,295.8 L304.8,293.2 L304.7,290.8 L304.6,288.5 L304.5,286.2 L304.4,284.1 L304.2,281.9 L304.1,279.7 L303.9,277.5 L303.7,275.2 L303.4,273.0 L303.2,270.9 L302.9,268.7 L302.6,266.6 L302.4,264.5 L302.1,262.4 L301.9,260.3 L301.6,258.2 L301.4,256.1 L301.1,253.9 L300.9,251.8 L300.6,249.6 L300.4,247.5 L300.1,245.3 L299.8,243.2 L299.6,241.1 L299.3,239.1 L299.0,237.0 L298.7,235.0 L298.4,232.9 L298.0,230.9 L297.7,228.9 L297.3,226.9 L296.9,224.9 L296.5,222.9 L296.1,221.0 L295.7,219.0 L295.2,217.0 L294.7,215.1 L294.2,213.2 L293.6,211.3 L293.1,209.4 L292.4,207.6 L291.8,205.9 L291.1,204.2 L290.5,202.5 L289.8,200.9 L289.1,199.3 L288.4,197.7 L287.7,196.0 L286.9,194.3 L286.2,192.6 L285.4,191.0 L284.6,189.3 L283.9,187.7 L283.1,186.1 L282.4,184.5 L281.6,182.9 L280.9,181.3 L280.2,179.7 L279.4,178.1 L278.7,176.5 L277.9,174.8 L277.1,173.2 L276.3,171.5 L275.5,169.7 L274.7,168.0 L273.8,166.2 L272.9,164.4 L272.0,162.6 L271.1,160.8 L270.2,159.0 L269.2,157.2 L268.3,155.5 L267.3,153.7 L266.3,151.9 L265.4,150.2 L264.3,148.4 L263.2,146.6 L262.1,144.7 L260.9,142.9 L259.6,141.1 L258.4,139.3 L257.0,137.5 L255.7,135.8 L254.3,134.0 L252.9,132.3 L251.5,130.5 L250.0,128.8 L248.5,127.0 L246.9,125.2 L245.3,123.5 L243.7,121.7 L242.1,120.0 L240.4,118.2 L238.8,116.5 L237.2,114.9 L235.6,113.2 L233.9,111.6 L232.3,110.1 L230.7,108.5 L229.2,107.0 L227.6,105.6 L226.2,104.1 L224.7,102.7 L223.3,101.2 L221.9,99.7 L220.5,98.3 L219.1,96.9 L217.9,95.5 L216.6,94.0 L215.4,92.6 L214.2,91.1 L213.0,89.4 L211.7,87.5 L210.4,85.4 L209.1,83.2 L207.9,81.2 L206.7,79.3 L205.8,77.6 L205.0,76.4 Z" fill="#0000ff" />
<path d="M302.5,372.0 L302.7,369.6 L302.8,366.5 L303.0,362.7 L303.2,358.5 L303.4,354.0 L303.6,349.3 L303.8,344.6 L304.0,340.0 L304.3,335.3 L304.6,330.3 L304.9,325.0 L305.2,319.6 L305.5,314.3 L305.8,309.2 L306.1,304.5 L306.5,300.2 L306.8,296.4 L307.1,292.9 L307.5,289.7 L307.9,286.7 L308.2,283.9 L308.6,281.1 L309.0,278.3 L309.5,275.6 L309.9,272.7 L310.3,269.9 L310.7,267.1 L311.2,264.3 L311.7,261.7 L312.1,259.2 L312.6,257.0 L313.0,255.0 L313.3,253.3 L313.6,251.9 L313.9,250.8 L314.1,249.8 L314.4,248.8 L314.7,247.8 L315.0,246.8 L315.4,245.6 L315.7,244.3 L316.1,243.1 L316.5,241.8 L316.8,240.6 L317.2,239.5 L317.6,238.3 L318.0,237.2 L318.4,236.0 L318.9,234.9 L319.4,233.8 L319.9,232.7 L320.4,231.5 L321.0,230.3 L321.6,229.1 L322.2,227.9 L322.8,226.7 L323.3,225.6 L323.8,224.5 L324.3,223.4 L324.8,222.4 L325.3,221.3 L325.9,220.3 L326.4,219.2 L327.0,218.0 L327.6,216.7 L328.3,215.4 L328.9,214.1 L329.5,212.8 L330.1,211.6 L330.7,210.6 L331.2,209.7 L331.8,209.0 L332.4,208.3 L333.0,207.7 L333.6,207.1 L334.3,206.5 L335.1,206.0 L335.9,205.5 L336.7,204.9 L337.6,204.5 L338.4,204.1 L339.3,203.7 L340.2,203.4 L341.3,203.0 L342.5,202.7 L343.8,202.3 L345.3,201.8 L346.9,201.3 L348.5,200.7 L350.2,200.0 L351.8,199.4 L353.4,198.7 L355.1,198.1 L356.7,197.5 L358.5,196.9 L360.3,196.4 L362.4,196.0 L364.8,195.5 L367.4,195.0 L370.1,194.6 L372.7,194.2 L375.3,193.8 L377.6,193.5 L379.7,193.3 L381.4,193.1 L382.9,192.9 L384.1,192.8 L385.3,192.8 L386.5,192.7 L387.6,192.7 L388.9,192.7 L390.3,192.6 L391.7,192.5 L392.9,192.4 L394.0,192.3 L395.1,192.2 L396.2,192.1 L397.4,192.1 L398.9,192.1 L400.7,192.1 L403.0,192.2 L405.6,192.3 L408.5,192.5 L411.6,192.7 L414.8,192.9 L418.0,193.1 L421.1,193.4 L424.2,193.6 L427.0,193.8 L429.9,194.1 L432.8,194.4 L435.8,194.8 L438.8,195.1 L441.9,195.3 L445.0,195.5 L448.1,195.6 L451.3,195.6 L454.6,195.5 L457.9,195.4 L461.2,195.2 L464.4,194.9 L467.4,194.7 L470.2,194.4 L472.7,194.0 L475.0,193.6 L477.1,193.2 L478.9,192.6 L480.5,192.1 L481.9,191.5 L483.0,191.0 L484.0,190.6 L485.0,190.2 L486.4,189.7 L487.6,189.0 L488.6,188.4 L489.2,188.1 L489.4,187.9 L489.2,188.0 L488.8,188.1 L488.5,188.1 L488.8,188.1 L489.1,188.2 L489.4,188.3 L489.8,188.5 L490.3,188.9 L491.0,189.4 L491.8,190.1 L492.8,191.0 L493.7,192.0 L494.7,193.5 L496.0,195.5 L497.5,197.8 L499.3,200.2 L501.3,202.7 L503.8,205.2 L506.7,207.3 L509.8,208.9 L512.9,210.2 L516.1,211.3 L519.5,212.3 L522.9,213.1 L526.5,213.9 L530.2,214.7 L534.1,215.6 L538.5,216.5 L543.3,217.4 L548.4,218.4 L553.6,219.3 L558.9,220.1 L564.0,220.9 L568.8,221.5 L573.1,222.1 L577.0,222.4 L580.4,222.6 L583.6,222.7 L586.6,222.7 L589.4,222.7 L592.3,222.6 L595.2,222.5 L598.5,222.5 L602.0,222.5 L605.9,222.5 L609.9,222.4 L614.0,222.4 L618.1,222.3 L622.2,222.2 L626.0,222.0 L629.7,221.7 L633.1,221.3 L636.3,220.9 L639.3,220.3 L642.2,219.8 L644.9,219.2 L647.6,218.6 L650.3,218.0 L653.2,217.5 L656.1,216.8 L659.0,216.1 L661.6,215.3 L664.1,214.6 L666.6,213.9 L669.3,213.4 L672.1,213.1 L675.4,212.9 L679.1,213.0 L683.4,213.3 L688.0,213.7 L692.9,214.3 L697.9,214.9 L703.1,215.6 L708.2,216.2 L713.2,216.7 L718.0,217.1 L722.7,217.6 L727.5,218.1 L732.4,218.6 L737.3,219.0 L742.2,219.3 L747.2,219.4 L752.2,219.4 L757.3,219.2 L762.5,218.8 L767.8,218.2 L772.9,217.5 L777.9,216.8 L782.7,216.1 L787.2,215.4 L791.4,214.7 L795.2,214.1 L798.6,213.4 L801.7,212.7 L804.6,212.1 L807.4,211.4 L810.1,210.8 L813.0,210.1 L816.1,209.5 L819.6,208.8 L823.3,208.1 L827.1,207.3 L830.9,206.6 L834.6,205.9 L838.2,205.3 L841.5,204.9 L844.4,204.6 L846.9,204.5 L849.1,204.5 L851.1,204.7 L853.1,204.9 L855.0,205.2 L857.1,205.6 L859.4,206.0 L861.9,206.5 L864.5,207.0 L867.0,207.6 L869.7,208.3 L872.5,209.1 L875.5,209.9 L878.7,210.6 L882.0,211.4 L885.6,212.0 L889.3,212.6 L893.3,213.1 L897.5,213.7 L901.8,214.1 L906.0,214.6 L910.1,215.0 L914.0,215.3 L917.6,215.6 L921.0,215.8 L924.4,215.9 L927.6,216.0 L930.7,216.1 L933.4,216.1 L935.9,216.1 L937.9,216.1 L939.4,216.1 L939.6,204.9 L937.9,204.9 L935.9,204.9 L933.5,204.9 L930.8,204.9 L927.9,204.8 L924.8,204.8 L921.6,204.6 L918.4,204.4 L915.0,204.1 L911.2,203.8 L907.1,203.4 L903.0,203.0 L898.8,202.5 L894.8,202.0 L890.9,201.5 L887.4,201.0 L884.3,200.4 L881.2,199.7 L878.3,199.0 L875.4,198.2 L872.6,197.5 L869.7,196.7 L866.9,196.1 L864.1,195.5 L861.5,195.0 L859.2,194.6 L856.9,194.2 L854.6,193.8 L852.2,193.5 L849.6,193.3 L846.7,193.3 L843.6,193.4 L840.2,193.7 L836.5,194.2 L832.7,194.8 L828.8,195.5 L824.9,196.3 L821.1,197.1 L817.4,197.8 L813.9,198.5 L810.7,199.2 L807.6,199.8 L804.8,200.5 L802.0,201.2 L799.3,201.8 L796.4,202.5 L793.2,203.1 L789.6,203.7 L785.5,204.3 L781.0,205.0 L776.3,205.7 L771.4,206.4 L766.5,207.1 L761.5,207.6 L756.6,208.0 L752.0,208.2 L747.4,208.2 L742.8,208.1 L738.1,207.8 L733.4,207.4 L728.7,206.9 L723.9,206.5 L719.0,206.0 L714.2,205.5 L709.4,205.1 L704.4,204.5 L699.3,203.8 L694.2,203.2 L689.2,202.6 L684.3,202.1 L679.6,201.8 L675.2,201.7 L671.2,201.9 L667.5,202.4 L664.2,203.0 L661.2,203.7 L658.5,204.5 L655.9,205.3 L653.5,205.9 L650.8,206.5 L648.0,207.1 L645.3,207.7 L642.6,208.2 L640.0,208.8 L637.3,209.3 L634.6,209.8 L631.7,210.2 L628.7,210.5 L625.3,210.8 L621.7,211.0 L617.8,211.1 L613.8,211.2 L609.8,211.2 L605.8,211.3 L602.0,211.3 L598.3,211.3 L595.0,211.3 L592.0,211.4 L589.2,211.5 L586.5,211.6 L583.8,211.5 L581.0,211.5 L577.8,211.3 L574.3,210.9 L570.2,210.4 L565.6,209.8 L560.6,209.1 L555.5,208.2 L550.3,207.3 L545.4,206.4 L540.7,205.5 L536.5,204.6 L532.6,203.8 L528.9,203.0 L525.5,202.2 L522.3,201.5 L519.5,200.6 L516.9,199.7 L514.6,198.8 L512.7,197.7 L511.0,196.6 L509.6,195.1 L508.1,193.4 L506.7,191.4 L505.4,189.4 L504.0,187.2 L502.5,185.1 L500.8,183.2 L499.3,181.8 L498.0,180.7 L496.7,179.7 L495.4,178.8 L494.1,178.1 L492.7,177.6 L491.3,177.2 L489.9,176.9 L488.0,176.9 L486.1,177.2 L484.6,177.8 L483.5,178.4 L482.7,178.9 L482.1,179.3 L481.6,179.5 L481.0,179.8 L479.9,180.2 L478.7,180.7 L477.6,181.2 L476.6,181.6 L475.5,182.0 L474.3,182.3 L472.8,182.7 L471.1,183.0 L468.9,183.2 L466.3,183.5 L463.5,183.8 L460.5,184.0 L457.4,184.2 L454.2,184.3 L451.2,184.4 L448.3,184.4 L445.5,184.3 L442.7,184.1 L439.9,183.9 L437.0,183.6 L434.1,183.3 L431.1,183.0 L428.1,182.7 L425.0,182.4 L422.0,182.2 L418.8,182.0 L415.5,181.7 L412.3,181.5 L409.2,181.3 L406.2,181.1 L403.5,181.0 L401.1,180.9 L399.0,180.9 L397.2,180.9 L395.6,180.9 L394.2,181.0 L393.0,181.1 L391.9,181.2 L390.9,181.3 L389.7,181.4 L388.5,181.5 L387.3,181.5 L386.1,181.5 L384.8,181.6 L383.5,181.6 L381.9,181.8 L380.2,181.9 L378.3,182.1 L376.1,182.4 L373.7,182.8 L371.1,183.1 L368.3,183.5 L365.5,184.0 L362.8,184.5 L360.1,185.0 L357.7,185.6 L355.4,186.2 L353.2,186.9 L351.2,187.6 L349.3,188.3 L347.6,189.0 L346.0,189.6 L344.5,190.2 L343.1,190.7 L341.8,191.2 L340.5,191.6 L339.2,191.9 L337.9,192.3 L336.6,192.8 L335.2,193.3 L333.8,193.9 L332.4,194.5 L331.1,195.3 L329.9,196.0 L328.7,196.8 L327.5,197.7 L326.3,198.6 L325.2,199.6 L324.1,200.8 L323.0,202.0 L322.0,203.4 L321.1,204.9 L320.2,206.4 L319.5,207.8 L318.8,209.2 L318.2,210.6 L317.6,211.8 L317.0,213.0 L316.4,214.1 L315.8,215.3 L315.3,216.4 L314.8,217.5 L314.2,218.6 L313.7,219.7 L313.2,220.8 L312.6,221.9 L312.1,223.0 L311.5,224.2 L310.9,225.4 L310.3,226.7 L309.7,227.9 L309.1,229.3 L308.5,230.6 L308.0,232.0 L307.5,233.3 L307.0,234.7 L306.6,236.0 L306.1,237.3 L305.7,238.6 L305.3,239.9 L305.0,241.2 L304.6,242.4 L304.3,243.6 L304.0,244.6 L303.7,245.7 L303.3,246.8 L303.0,248.1 L302.7,249.5 L302.3,251.1 L302.0,253.0 L301.7,255.2 L301.4,257.5 L301.1,260.1 L300.7,262.8 L300.4,265.6 L300.1,268.6 L299.8,271.5 L299.5,274.4 L299.3,277.3 L299.2,280.1 L299.0,283.0 L298.9,285.9 L298.8,289.0 L298.7,292.3 L298.6,295.9 L298.5,299.8 L298.5,304.2 L298.5,309.0 L298.6,314.2 L298.7,319.5 L298.7,324.9 L298.8,330.2 L298.9,335.2 L299.0,340.0 L299.0,344.6 L299.1,349.3 L299.1,354.0 L299.2,358.5 L299.3,362.7 L299.3,366.4 L299.4,369.6 L299.5,372.0 Z" fill="#0000ff" />
<line x1="300.6" y1="380" x2="300.6" y2="420" stroke="#1010a0" stroke-width="2"/>
<path d="M300.7,426.5 L305.7,417.5 L295.7,417.5 Z" fill="none" stroke="#0000ff" stroke-width="2.2"/>
<path d="M193.0,149.9 L193.5,151.0 L194.3,152.3 L195.1,153.9 L196.1,155.8 L197.1,157.7 L198.1,159.6 L199.1,161.4 L200.0,163.1 L200.9,164.6 L201.7,166.0 L202.6,167.4 L203.4,168.8 L204.2,170.2 L205.0,171.5 L205.8,172.9 L206.7,174.3 L207.5,175.7 L208.4,177.0 L209.3,178.4 L210.1,179.8 L211.0,181.2 L211.9,182.6 L212.8,184.0 L213.8,185.4 L214.7,186.9 L215.7,188.3 L216.7,189.8 L217.6,191.3 L218.7,192.8 L219.7,194.3 L220.7,195.9 L221.8,197.5 L222.9,199.2 L224.1,200.9 L225.3,202.7 L226.5,204.5 L227.8,206.3 L229.0,208.1 L230.2,209.9 L231.4,211.6 L232.5,213.2 L233.6,214.8 L234.7,216.3 L235.8,217.7 L236.8,219.2 L237.8,220.6 L238.8,222.0 L239.8,223.5 L240.8,225.0 L241.9,226.6 L242.9,228.1 L243.9,229.7 L244.9,231.2 L245.8,232.7 L246.7,234.2 L247.6,235.6 L248.4,237.1 L249.2,238.4 L249.9,239.8 L250.6,241.2 L251.3,242.6 L252.0,244.0 L252.7,245.3 L253.4,246.7 L254.0,248.1 L254.7,249.4 L255.3,250.8 L255.9,252.1 L256.5,253.5 L257.1,254.9 L257.7,256.2 L258.3,257.6 L258.9,258.9 L259.5,260.2 L260.1,261.4 L260.6,262.5 L261.1,263.6 L261.6,264.7 L262.1,265.9 L262.7,267.2 L263.2,268.7 L263.8,270.3 L264.3,271.9 L264.9,273.6 L265.5,275.3 L266.0,277.0 L266.5,278.8 L266.9,280.5 L267.5,282.2 L268.0,283.9 L268.6,285.7 L269.1,287.5 L269.6,289.3 L270.0,291.3 L270.5,293.5 L271.1,295.8 L271.5,298.2 L271.9,300.8 L272.4,303.5 L272.8,306.4 L273.3,309.3 L273.7,312.3 L274.1,315.4 L274.5,318.5 L274.9,321.7 L275.3,325.1 L275.7,328.6 L276.1,332.2 L276.5,335.8 L276.8,339.4 L277.2,342.9 L277.5,346.3 L277.8,349.6 L278.1,353.0 L278.3,356.4 L278.6,359.7 L278.8,363.0 L279.0,366.2 L279.3,369.3 L279.5,372.2 L279.8,375.1 L280.2,377.8 L280.5,380.5 L280.9,383.1 L281.2,385.5 L281.5,387.8 L281.8,390.0 L282.0,392.1 L282.1,394.0 L282.2,395.7 L282.3,397.3 L282.3,398.8 L282.4,400.2 L282.4,401.7 L282.4,403.3 L282.5,405.0 L282.6,406.9 L282.7,409.0 L282.8,411.1 L282.9,413.3 L283.0,415.4 L283.1,417.3 L283.2,418.8 L283.2,420.0 L285.8,420.0 L285.8,418.8 L285.9,417.3 L286.0,415.4 L286.1,413.3 L286.2,411.1 L286.3,409.0 L286.4,406.9 L286.5,405.0 L286.6,403.3 L286.7,401.8 L286.8,400.3 L286.8,398.8 L286.9,397.3 L287.0,395.7 L287.0,393.9 L287.0,391.9 L287.0,389.7 L287.0,387.4 L286.9,385.0 L286.8,382.6 L286.7,380.0 L286.6,377.3 L286.6,374.6 L286.5,371.8 L286.4,368.8 L286.3,365.8 L286.2,362.6 L286.1,359.3 L285.9,356.0 L285.8,352.6 L285.7,349.1 L285.5,345.7 L285.3,342.2 L285.1,338.7 L284.8,335.1 L284.6,331.4 L284.3,327.8 L284.0,324.3 L283.8,320.8 L283.5,317.5 L283.2,314.3 L282.9,311.2 L282.6,308.1 L282.2,305.1 L281.9,302.2 L281.6,299.5 L281.3,296.8 L280.9,294.2 L280.7,291.8 L280.5,289.6 L280.3,287.5 L280.1,285.4 L279.9,283.4 L279.7,281.5 L279.4,279.5 L279.1,277.5 L278.5,275.5 L278.0,273.5 L277.4,271.6 L276.8,269.7 L276.2,267.8 L275.5,266.1 L274.9,264.4 L274.3,262.8 L273.7,261.2 L273.1,259.8 L272.5,258.4 L271.9,257.1 L271.4,255.9 L270.8,254.8 L270.2,253.6 L269.7,252.4 L269.1,251.1 L268.5,249.8 L267.9,248.4 L267.3,247.0 L266.7,245.6 L266.0,244.2 L265.3,242.7 L264.6,241.3 L263.9,239.8 L263.2,238.4 L262.5,237.0 L261.7,235.5 L261.0,234.0 L260.2,232.5 L259.3,230.9 L258.4,229.4 L257.5,227.8 L256.5,226.1 L255.4,224.5 L254.4,222.9 L253.4,221.3 L252.3,219.7 L251.2,218.1 L250.2,216.5 L249.1,214.9 L248.0,213.4 L247.0,211.9 L245.9,210.4 L244.9,209.0 L243.8,207.5 L242.7,206.0 L241.6,204.4 L240.5,202.8 L239.3,201.1 L238.1,199.3 L236.9,197.5 L235.7,195.7 L234.5,193.9 L233.3,192.2 L232.2,190.5 L231.1,188.9 L230.1,187.3 L229.0,185.8 L228.0,184.3 L227.1,182.9 L226.1,181.4 L225.2,180.0 L224.2,178.6 L223.3,177.2 L222.4,175.8 L221.5,174.4 L220.7,173.1 L219.8,171.7 L219.0,170.4 L218.2,169.1 L217.3,167.7 L216.5,166.4 L215.7,165.1 L214.9,163.7 L214.1,162.4 L213.3,161.1 L212.6,159.8 L211.8,158.4 L211.0,156.9 L210.1,155.4 L209.1,153.6 L208.1,151.7 L207.1,149.9 L206.2,148.1 L205.3,146.5 L204.6,145.1 L204.0,144.1 Z" fill="#00ffff" />
<path d="M286.6,400.1 L286.8,398.6 L287.0,396.5 L287.2,394.1 L287.4,391.4 L287.7,388.5 L287.9,385.6 L288.2,382.8 L288.5,380.2 L288.8,377.8 L289.1,375.4 L289.4,373.0 L289.7,370.6 L290.0,368.2 L290.3,365.6 L290.6,363.0 L291.0,360.3 L291.4,357.4 L291.8,354.4 L292.3,351.3 L292.7,348.2 L293.1,345.0 L293.6,341.7 L294.0,338.5 L294.5,335.4 L294.9,332.2 L295.3,329.0 L295.7,325.7 L296.1,322.5 L296.5,319.3 L296.9,316.2 L297.3,313.3 L297.7,310.6 L298.1,308.0 L298.5,305.6 L298.9,303.2 L299.3,301.0 L299.8,298.9 L300.2,296.9 L300.6,295.0 L301.1,293.2 L301.7,291.6 L302.3,290.0 L302.8,288.6 L303.4,287.3 L304.0,286.1 L304.7,284.9 L305.3,283.7 L306.0,282.6 L306.5,281.5 L307.0,280.4 L307.5,279.3 L308.1,278.3 L308.7,277.4 L309.2,276.4 L309.8,275.5 L310.4,274.6 L310.9,273.9 L311.4,273.3 L311.9,272.7 L312.4,272.1 L312.9,271.5 L313.5,270.8 L314.1,270.1 L314.8,269.4 L315.5,268.6 L316.2,267.9 L316.8,267.2 L317.4,266.5 L318.1,265.9 L318.7,265.3 L319.4,264.7 L320.1,264.1 L321.0,263.4 L322.0,262.6 L323.0,261.8 L324.2,261.1 L325.2,260.3 L326.2,259.7 L327.1,259.2 L327.8,258.9 L328.5,258.6 L329.0,258.4 L329.3,258.2 L329.5,258.2 L329.4,258.2 L329.2,258.2 L329.0,258.2 L328.5,258.0 L328.1,257.8 L327.9,257.7 L328.2,257.9 L328.6,258.5 L329.2,259.2 L329.9,260.0 L330.8,261.0 L331.8,261.9 L332.4,262.5 L333.0,262.9 L333.6,263.4 L334.5,264.0 L335.7,264.7 L337.3,265.2 L339.0,265.5 L340.8,265.5 L342.6,265.0 L344.1,264.4 L345.3,263.8 L346.2,263.3 L346.9,262.8 L347.5,262.5 L347.9,262.2 L348.4,262.0 L349.1,261.8 L349.7,261.5 L350.2,261.4 L350.7,261.2 L351.3,261.1 L352.1,260.9 L353.3,260.7 L355.0,260.4 L357.0,260.1 L359.4,259.8 L362.0,259.4 L364.8,259.1 L367.7,258.7 L370.8,258.4 L374.0,258.2 L377.3,258.0 L380.8,257.9 L384.7,257.8 L388.9,257.7 L393.1,257.7 L397.3,257.7 L401.4,257.8 L405.3,257.9 L408.7,258.0 L411.7,258.2 L414.5,258.5 L417.3,258.8 L419.9,259.2 L422.4,259.6 L424.9,260.0 L427.3,260.3 L429.7,260.5 L431.8,260.5 L433.7,260.5 L435.3,260.3 L436.7,260.1 L437.8,259.8 L438.7,259.7 L439.4,259.6 L440.3,259.5 L441.5,259.5 L442.9,259.5 L444.4,259.5 L445.9,259.6 L447.6,259.6 L449.3,259.6 L451.0,259.6 L452.5,259.5 L453.9,259.3 L455.1,259.2 L456.4,259.0 L457.8,258.8 L459.2,258.4 L460.7,257.9 L462.2,257.2 L463.7,256.3 L465.2,255.1 L466.4,253.9 L467.4,252.6 L468.2,251.4 L468.9,250.2 L469.5,249.1 L470.1,248.2 L470.6,247.3 L471.2,246.3 L471.7,245.3 L472.3,244.3 L472.8,243.3 L473.3,242.2 L473.9,241.1 L474.4,239.9 L475.0,238.5 L475.6,237.0 L476.3,235.3 L476.9,233.6 L477.5,231.9 L478.2,230.1 L478.8,228.5 L479.4,226.9 L480.0,225.6 L480.5,224.3 L481.1,223.0 L481.7,221.8 L482.3,220.6 L483.0,219.4 L483.6,218.3 L484.2,217.1 L484.8,216.0 L485.3,214.9 L485.9,213.8 L486.4,212.8 L486.9,211.9 L487.3,211.2 L487.6,210.7 L487.7,210.5 L487.6,210.5 L487.3,210.8 L486.6,211.3 L485.4,211.7 L484.0,211.7 L482.9,211.5 L482.2,211.2 L481.9,211.0 L481.7,210.9 L481.5,210.7 L481.5,210.6 L481.6,210.8 L481.8,211.1 L482.0,211.6 L482.4,212.3 L482.8,213.0 L483.2,213.9 L483.6,214.8 L484.0,215.7 L484.5,216.7 L485.0,217.8 L485.5,218.9 L486.0,220.1 L486.5,221.2 L487.0,222.4 L487.4,223.6 L487.9,224.8 L488.3,226.1 L488.8,227.5 L489.3,228.9 L489.8,230.3 L490.4,231.8 L490.9,233.3 L491.5,234.9 L492.1,236.4 L492.8,238.0 L493.4,239.6 L494.1,241.1 L494.8,242.7 L495.4,244.2 L496.1,245.6 L496.6,246.9 L497.1,248.2 L497.7,249.6 L498.3,251.0 L499.0,252.5 L499.8,254.1 L500.9,255.7 L502.1,257.3 L503.4,258.6 L504.8,259.8 L506.2,260.9 L507.6,261.9 L509.0,262.7 L510.4,263.5 L511.8,264.2 L513.1,264.8 L514.3,265.4 L515.4,266.0 L516.7,266.6 L518.2,267.2 L519.9,267.8 L521.9,268.4 L524.2,268.9 L526.9,269.4 L530.2,269.9 L533.9,270.4 L537.9,270.8 L542.2,271.3 L546.7,271.7 L551.3,272.2 L555.8,272.6 L560.3,273.1 L564.8,273.6 L569.6,274.1 L574.5,274.7 L579.4,275.3 L584.4,275.9 L589.4,276.4 L594.2,276.8 L598.7,277.0 L603.0,277.1 L607.2,277.2 L611.2,277.2 L615.2,277.1 L619.1,276.9 L622.9,276.5 L626.6,276.0 L630.4,275.4 L634.1,274.4 L637.6,273.3 L641.0,272.0 L644.2,270.6 L647.3,269.2 L650.0,267.8 L652.6,266.5 L655.0,265.3 L657.4,264.0 L659.6,262.6 L661.5,261.3 L663.2,260.1 L664.6,259.0 L665.9,258.1 L667.0,257.3 L668.0,256.7 L669.1,256.2 L670.2,255.7 L671.1,255.4 L672.0,255.1 L672.9,254.8 L673.9,254.5 L675.2,254.3 L676.7,253.9 L678.4,253.5 L680.2,253.1 L681.8,252.7 L683.3,252.4 L684.9,252.1 L686.4,252.0 L688.0,252.0 L689.7,252.1 L691.7,252.5 L694.2,253.1 L696.9,254.0 L699.8,254.9 L702.8,256.0 L705.8,257.1 L708.7,258.1 L711.5,259.1 L713.8,260.0 L716.0,260.9 L718.2,261.9 L720.4,263.0 L722.9,264.0 L725.5,265.1 L728.4,266.0 L731.6,266.8 L734.8,267.5 L738.1,268.1 L741.5,268.6 L745.1,269.0 L748.8,269.4 L752.6,269.6 L756.5,269.6 L760.4,269.5 L764.4,269.2 L768.5,268.7 L772.6,268.0 L776.8,267.2 L780.9,266.4 L784.9,265.4 L788.7,264.4 L792.3,263.4 L795.7,262.4 L799.0,261.3 L802.1,260.2 L805.0,259.0 L808.0,257.7 L810.9,256.3 L813.7,254.9 L816.8,253.3 L819.9,251.4 L823.1,249.3 L826.0,247.2 L828.9,245.1 L831.7,243.0 L834.4,241.2 L836.9,239.6 L839.4,238.4 L841.9,237.3 L844.4,236.4 L846.9,235.6 L849.5,234.9 L852.1,234.3 L854.8,233.8 L857.6,233.3 L860.4,233.0 L863.4,232.7 L866.4,232.5 L869.5,232.4 L872.8,232.4 L876.1,232.5 L879.4,232.6 L882.8,232.8 L886.1,233.0 L889.4,233.2 L892.7,233.5 L896.0,233.9 L899.4,234.3 L902.7,234.7 L906.1,235.1 L909.4,235.6 L912.6,236.0 L915.9,236.3 L919.3,236.8 L922.7,237.2 L926.0,237.6 L929.2,238.0 L932.0,238.4 L934.4,238.7 L936.2,238.9 L937.8,226.1 L936.0,225.8 L933.7,225.5 L930.9,225.1 L927.7,224.7 L924.4,224.3 L920.9,223.9 L917.5,223.4 L914.2,223.0 L911.0,222.7 L907.7,222.2 L904.4,221.8 L900.9,221.4 L897.5,220.9 L893.9,220.6 L890.4,220.3 L886.9,220.0 L883.5,219.8 L880.0,219.7 L876.5,219.5 L872.9,219.4 L869.4,219.4 L865.9,219.5 L862.4,219.7 L859.0,220.0 L855.7,220.5 L852.6,221.0 L849.4,221.5 L846.3,222.2 L843.3,223.1 L840.2,224.1 L837.0,225.2 L833.8,226.6 L830.5,228.3 L827.3,230.3 L824.2,232.4 L821.3,234.6 L818.4,236.7 L815.7,238.7 L813.0,240.4 L810.4,241.9 L807.8,243.3 L805.2,244.6 L802.6,245.9 L800.0,247.0 L797.4,248.1 L794.6,249.1 L791.8,250.0 L788.7,251.0 L785.3,251.9 L781.8,252.8 L778.0,253.7 L774.2,254.5 L770.4,255.2 L766.6,255.8 L763.0,256.2 L759.6,256.5 L756.3,256.6 L753.0,256.6 L749.7,256.4 L746.5,256.1 L743.3,255.7 L740.2,255.3 L737.2,254.7 L734.4,254.2 L732.1,253.6 L729.9,252.9 L727.9,252.0 L725.8,251.1 L723.6,250.1 L721.2,249.0 L718.7,247.9 L715.9,246.9 L713.1,245.9 L710.2,244.8 L707.2,243.7 L704.0,242.6 L700.8,241.6 L697.7,240.6 L694.5,239.8 L691.5,239.3 L688.6,239.0 L685.8,239.0 L683.3,239.2 L681.0,239.6 L678.9,240.0 L677.0,240.5 L675.4,240.9 L673.9,241.3 L672.4,241.6 L670.9,241.9 L669.5,242.3 L668.0,242.7 L666.6,243.2 L665.1,243.8 L663.6,244.4 L662.0,245.3 L660.2,246.3 L658.5,247.4 L656.9,248.5 L655.4,249.6 L654.0,250.7 L652.5,251.7 L650.9,252.7 L649.0,253.7 L646.7,254.9 L644.2,256.2 L641.6,257.5 L638.9,258.8 L636.1,260.0 L633.3,261.0 L630.5,261.9 L627.6,262.6 L624.6,263.2 L621.5,263.6 L618.1,263.9 L614.7,264.1 L611.1,264.2 L607.3,264.2 L603.3,264.1 L599.3,264.0 L595.0,263.8 L590.5,263.4 L585.8,263.0 L580.9,262.4 L576.0,261.8 L571.1,261.2 L566.3,260.7 L561.7,260.1 L557.1,259.7 L552.5,259.2 L548.0,258.8 L543.5,258.3 L539.3,257.9 L535.4,257.5 L532.0,257.0 L529.1,256.6 L526.8,256.2 L525.0,255.8 L523.8,255.4 L522.8,255.1 L522.0,254.7 L521.2,254.3 L520.1,253.8 L518.9,253.2 L517.6,252.5 L516.5,252.0 L515.5,251.4 L514.5,250.9 L513.7,250.3 L513.0,249.8 L512.4,249.3 L511.9,248.7 L511.5,248.2 L511.1,247.6 L510.7,246.7 L510.2,245.7 L509.7,244.6 L509.2,243.3 L508.6,241.8 L507.9,240.4 L507.3,239.0 L506.7,237.5 L506.1,236.1 L505.4,234.6 L504.8,233.1 L504.2,231.6 L503.6,230.1 L503.1,228.7 L502.5,227.3 L502.0,225.9 L501.6,224.6 L501.1,223.2 L500.6,221.8 L500.1,220.4 L499.6,219.0 L499.0,217.6 L498.5,216.3 L498.0,215.0 L497.4,213.7 L496.9,212.5 L496.3,211.3 L495.8,210.2 L495.3,209.1 L494.8,208.1 L494.4,207.3 L494.0,206.4 L493.6,205.6 L493.1,204.7 L492.6,203.9 L492.0,203.0 L491.2,202.0 L490.3,201.1 L489.4,200.4 L488.4,199.8 L487.0,199.2 L485.1,198.8 L483.0,198.9 L481.1,199.5 L479.5,200.4 L478.4,201.5 L477.4,202.6 L476.6,203.7 L476.0,204.7 L475.4,205.8 L474.8,206.9 L474.3,207.9 L473.8,209.0 L473.2,210.0 L472.7,211.0 L472.1,212.2 L471.4,213.4 L470.8,214.7 L470.1,216.0 L469.4,217.4 L468.7,218.9 L468.0,220.4 L467.3,222.1 L466.7,223.8 L466.0,225.6 L465.3,227.4 L464.7,229.1 L464.1,230.7 L463.5,232.2 L463.0,233.5 L462.5,234.6 L462.0,235.7 L461.6,236.6 L461.2,237.5 L460.8,238.3 L460.4,239.0 L459.9,239.8 L459.4,240.7 L458.8,241.7 L458.2,242.7 L457.7,243.6 L457.3,244.4 L456.9,245.0 L456.6,245.4 L456.4,245.6 L456.3,245.7 L456.1,245.8 L455.9,245.9 L455.6,246.0 L455.1,246.1 L454.4,246.2 L453.6,246.3 L452.5,246.4 L451.5,246.5 L450.4,246.6 L449.2,246.6 L447.8,246.6 L446.3,246.6 L444.7,246.5 L443.1,246.5 L441.4,246.5 L439.7,246.5 L438.0,246.6 L436.6,246.8 L435.4,247.1 L434.4,247.3 L433.6,247.4 L432.8,247.5 L431.7,247.5 L430.3,247.5 L428.6,247.4 L426.7,247.1 L424.4,246.8 L421.9,246.4 L419.1,246.0 L416.0,245.6 L412.8,245.2 L409.3,245.0 L405.7,244.9 L401.7,244.8 L397.5,244.7 L393.1,244.7 L388.8,244.7 L384.5,244.8 L380.4,244.9 L376.7,245.0 L373.1,245.2 L369.7,245.5 L366.4,245.8 L363.2,246.2 L360.3,246.5 L357.6,246.9 L355.2,247.3 L353.0,247.6 L351.2,247.9 L349.7,248.1 L348.3,248.4 L347.2,248.7 L346.2,249.0 L345.3,249.3 L344.5,249.6 L343.6,250.0 L342.4,250.5 L341.1,251.1 L340.1,251.7 L339.3,252.2 L338.8,252.6 L338.5,252.7 L338.7,252.7 L339.2,252.5 L339.9,252.5 L340.5,252.6 L341.0,252.8 L341.3,253.0 L341.3,253.0 L341.1,252.8 L340.6,252.4 L340.2,252.1 L340.1,251.9 L339.8,251.6 L339.3,251.0 L338.6,250.2 L337.8,249.2 L336.7,248.1 L335.3,247.0 L333.5,246.0 L331.7,245.4 L330.1,245.2 L328.5,245.2 L327.0,245.4 L325.7,245.8 L324.5,246.2 L323.3,246.6 L322.2,247.1 L320.9,247.8 L319.5,248.6 L318.2,249.4 L316.8,250.3 L315.5,251.2 L314.3,252.2 L313.0,253.1 L311.9,253.9 L310.8,254.8 L309.8,255.7 L308.9,256.6 L308.1,257.5 L307.3,258.3 L306.5,259.1 L305.9,259.9 L305.2,260.6 L304.6,261.3 L303.9,262.0 L303.2,262.8 L302.5,263.6 L301.8,264.4 L301.1,265.3 L300.3,266.3 L299.6,267.4 L298.9,268.4 L298.2,269.5 L297.5,270.7 L296.8,271.9 L296.1,273.2 L295.4,274.6 L294.7,276.0 L294.0,277.4 L293.6,278.9 L293.1,280.4 L292.7,281.9 L292.3,283.5 L291.9,285.2 L291.6,287.0 L291.2,288.8 L290.9,290.8 L290.5,292.8 L290.1,294.9 L289.8,297.1 L289.5,299.4 L289.2,301.7 L288.9,304.2 L288.6,306.7 L288.3,309.4 L288.0,312.3 L287.8,315.3 L287.6,318.4 L287.4,321.7 L287.2,324.9 L286.9,328.2 L286.7,331.4 L286.5,334.6 L286.3,337.8 L286.1,341.0 L285.9,344.2 L285.7,347.5 L285.5,350.7 L285.4,353.8 L285.2,356.8 L285.0,359.7 L284.8,362.4 L284.6,365.1 L284.4,367.6 L284.2,370.0 L284.0,372.4 L283.8,374.9 L283.7,377.3 L283.5,379.8 L283.4,382.4 L283.2,385.3 L283.1,388.2 L282.9,391.1 L282.8,393.8 L282.7,396.3 L282.6,398.3 L282.6,399.9 Z" fill="#00ffff" />
<path d="M279,312 L293,312 L293,310 L290.5,335 L288,360 L286,380 L284.6,402 L284.5,402 L283,372 L281.5,346 L279,318 Z" fill="#00ffff"/>
<line x1="284.5" y1="418" x2="284.5" y2="509" stroke="#00ffff" stroke-width="2.2"/>
<path d="M284.5,502.5 L289.5,509.2 L284.5,516 L279.5,509.2 Z" fill="#00ffff"/>
<path d="M192.6,120.0 L193.2,121.3 L193.9,123.1 L194.9,125.3 L195.9,127.7 L197.0,130.2 L198.1,132.7 L199.2,135.2 L200.3,137.4 L201.3,139.3 L202.3,141.1 L203.3,142.8 L204.2,144.4 L205.2,145.9 L206.1,147.3 L206.9,148.8 L207.8,150.3 L208.8,151.9 L209.7,153.6 L210.7,155.2 L211.7,156.9 L212.6,158.6 L213.6,160.2 L214.5,161.9 L215.4,163.5 L216.3,165.2 L217.1,166.9 L218.0,168.6 L218.9,170.3 L219.7,172.0 L220.6,173.8 L221.4,175.5 L222.2,177.3 L223.1,179.0 L223.9,180.8 L224.8,182.5 L225.6,184.2 L226.4,186.0 L227.2,187.7 L227.9,189.3 L228.6,190.9 L229.3,192.5 L229.9,194.1 L230.6,195.7 L231.2,197.2 L231.7,198.8 L232.3,200.3 L232.9,201.9 L233.4,203.5 L234.0,205.0 L234.6,206.5 L235.2,208.1 L235.7,209.6 L236.2,211.1 L236.7,212.6 L237.2,214.2 L237.7,215.8 L238.2,217.4 L238.7,219.0 L239.1,220.6 L239.5,222.3 L239.9,224.0 L240.3,225.7 L240.7,227.4 L241.1,229.1 L241.4,230.8 L241.7,232.5 L242.0,234.3 L242.3,236.2 L242.6,238.1 L242.9,240.0 L243.2,241.9 L243.6,243.9 L243.9,245.8 L244.2,247.8 L244.6,249.9 L245.0,251.9 L245.3,253.9 L245.7,255.8 L246.0,257.5 L246.4,259.1 L246.7,260.6 L247.0,262.0 L247.4,263.3 L247.7,264.4 L248.0,265.4 L248.3,266.2 L248.5,266.9 L248.7,267.4 L259.3,264.6 L259.2,264.0 L259.0,263.2 L258.8,262.4 L258.6,261.5 L258.4,260.5 L258.1,259.4 L257.9,258.2 L257.6,256.9 L257.4,255.4 L257.1,253.7 L256.8,251.9 L256.5,250.0 L256.3,248.0 L256.0,246.0 L255.7,244.0 L255.4,242.1 L255.2,240.3 L255.1,238.5 L254.9,236.6 L254.7,234.7 L254.6,232.8 L254.4,230.8 L254.2,228.9 L253.9,226.9 L253.6,225.0 L253.3,223.2 L253.0,221.3 L252.7,219.5 L252.4,217.6 L252.0,215.8 L251.7,214.0 L251.3,212.2 L250.9,210.5 L250.4,208.7 L250.0,207.0 L249.5,205.3 L249.1,203.6 L248.6,201.9 L248.1,200.2 L247.6,198.5 L247.0,196.9 L246.4,195.2 L245.8,193.5 L245.2,191.9 L244.5,190.2 L243.8,188.5 L243.1,186.8 L242.4,185.1 L241.6,183.3 L240.8,181.5 L240.0,179.7 L239.2,177.9 L238.3,176.1 L237.5,174.3 L236.6,172.5 L235.8,170.7 L234.9,169.0 L234.0,167.2 L233.2,165.4 L232.3,163.6 L231.4,161.8 L230.5,160.0 L229.6,158.3 L228.6,156.5 L227.6,154.7 L226.7,152.9 L225.7,151.1 L224.7,149.4 L223.7,147.7 L222.7,146.0 L221.7,144.4 L220.8,142.7 L219.8,141.1 L218.8,139.5 L217.9,138.0 L217.0,136.6 L216.2,135.1 L215.4,133.7 L214.5,132.2 L213.7,130.6 L212.8,128.8 L211.8,126.6 L210.7,124.2 L209.7,121.8 L208.7,119.4 L207.8,117.2 L207.0,115.4 L206.4,114.0 Z" fill="#ff00ff" />
<path d="M266.4,268.8 L266.7,268.2 L266.9,267.4 L267.2,266.5 L267.5,265.5 L267.8,264.4 L268.2,263.3 L268.5,262.2 L268.9,261.2 L269.2,260.2 L269.6,259.1 L270.0,258.0 L270.4,256.9 L270.9,255.7 L271.3,254.4 L271.8,253.0 L272.3,251.6 L272.7,250.0 L273.1,248.3 L273.5,246.6 L273.9,244.8 L274.4,243.0 L274.8,241.2 L275.3,239.5 L275.8,237.8 L276.3,236.0 L276.8,234.2 L277.3,232.3 L277.8,230.6 L278.4,228.9 L278.9,227.3 L279.4,225.9 L279.9,224.6 L280.5,223.5 L281.0,222.5 L281.5,221.6 L282.1,220.7 L282.7,219.9 L283.2,219.2 L283.8,218.5 L284.2,218.0 L284.6,217.6 L284.8,217.4 L285.1,217.2 L285.4,217.0 L285.9,216.8 L286.5,216.5 L287.2,216.2 L287.9,215.8 L288.4,215.6 L288.7,215.4 L289.1,215.3 L289.6,215.1 L290.2,214.9 L291.0,214.6 L291.8,214.3 L292.6,213.9 L293.4,213.6 L294.1,213.3 L294.9,212.9 L295.8,212.5 L296.6,212.1 L297.6,211.6 L298.5,211.1 L299.4,210.5 L300.3,210.0 L301.1,209.4 L302.0,208.8 L302.9,208.2 L303.7,207.5 L304.6,206.8 L305.5,206.1 L306.4,205.3 L307.4,204.4 L308.3,203.4 L309.1,202.5 L309.9,201.6 L310.6,200.7 L311.3,199.9 L312.0,199.2 L312.7,198.5 L313.4,197.7 L314.2,196.9 L314.9,196.2 L315.5,195.6 L316.0,195.0 L316.4,194.7 L316.8,194.4 L317.1,194.2 L317.5,194.0 L318.0,193.9 L318.6,193.7 L319.3,193.5 L320.1,193.3 L320.9,193.2 L321.9,193.1 L322.8,193.0 L323.6,192.9 L324.5,192.8 L325.4,192.7 L326.3,192.7 L327.1,192.7 L327.8,192.8 L328.3,192.8 L328.8,192.9 L329.3,193.0 L329.7,193.1 L329.8,193.1 L329.7,193.1 L329.5,192.9 L329.2,192.7 L329.1,192.6 L329.1,192.6 L329.1,192.6 L329.2,192.9 L329.4,193.5 L329.6,194.2 L329.9,195.1 L330.1,196.2 L330.4,197.3 L330.7,198.4 L330.9,199.6 L331.2,200.8 L331.4,202.0 L331.6,203.4 L331.9,204.7 L332.1,206.2 L332.3,207.6 L332.6,209.1 L332.8,210.5 L333.0,212.0 L333.3,213.6 L333.5,215.3 L333.8,216.9 L334.0,218.6 L334.4,220.2 L334.7,221.6 L335.0,222.8 L335.3,223.9 L335.7,225.0 L336.2,226.3 L336.8,227.6 L337.8,229.0 L339.0,230.4 L340.6,231.5 L342.2,232.4 L343.9,232.9 L345.5,233.3 L347.0,233.5 L348.4,233.6 L349.8,233.6 L351.1,233.5 L352.4,233.5 L353.7,233.4 L355.1,233.3 L356.5,233.1 L358.1,232.9 L359.7,232.6 L361.3,232.1 L363.0,231.6 L364.7,230.9 L366.5,230.0 L368.1,228.9 L369.5,227.9 L370.7,226.8 L371.8,225.9 L372.8,225.2 L373.5,224.6 L374.2,224.1 L375.0,223.7 L375.8,223.4 L376.7,223.0 L377.6,222.6 L378.6,222.3 L379.7,221.9 L380.9,221.6 L382.1,221.2 L383.2,220.8 L384.3,220.4 L385.5,220.1 L386.7,219.7 L387.9,219.4 L389.2,219.0 L390.6,218.6 L391.9,218.2 L393.2,217.8 L394.5,217.4 L395.7,217.0 L397.0,216.6 L398.2,216.2 L399.6,215.7 L401.1,215.2 L402.9,214.7 L404.9,214.1 L407.1,213.4 L409.4,212.7 L411.8,212.0 L414.3,211.2 L416.7,210.5 L419.1,209.9 L421.4,209.3 L423.8,208.8 L426.3,208.4 L428.9,207.9 L431.6,207.5 L434.2,207.1 L436.7,206.7 L439.1,206.3 L441.4,205.9 L443.3,205.4 L445.1,204.9 L446.6,204.5 L448.0,204.0 L449.2,203.6 L450.2,203.3 L451.1,203.0 L451.9,202.7 L452.5,202.6 L452.9,202.6 L453.4,202.6 L454.0,202.5 L454.9,202.4 L455.9,202.1 L457.0,201.7 L458.1,201.3 L459.3,200.7 L460.6,200.0 L461.8,199.3 L463.0,198.5 L464.3,197.8 L465.5,197.0 L466.7,196.3 L467.8,195.7 L468.9,195.0 L470.0,194.4 L471.1,193.7 L472.4,193.0 L473.7,192.2 L475.0,191.3 L476.3,190.4 L477.6,189.3 L478.8,188.2 L479.9,187.1 L480.9,185.9 L481.8,184.9 L482.6,183.8 L483.4,182.8 L484.1,181.8 L484.8,180.8 L485.5,179.9 L486.2,178.9 L487.0,177.9 L487.8,176.8 L488.7,175.5 L489.6,174.1 L490.5,172.6 L491.3,170.8 L492.2,168.9 L493.1,166.8 L493.8,164.7 L494.6,162.5 L495.4,160.4 L496.1,158.4 L496.8,156.7 L497.4,155.1 L498.2,153.5 L498.8,151.9 L499.5,150.5 L500.1,149.3 L500.6,148.3 L501.1,147.5 L501.4,147.0 L501.6,146.9 L501.6,146.9 L501.6,146.9 L501.7,146.8 L502.1,146.7 L502.7,146.7 L503.5,146.6 L504.5,146.5 L505.7,146.4 L506.8,146.3 L507.9,146.2 L508.7,146.1 L509.3,146.1 L509.6,146.1 L509.6,146.1 L509.4,146.0 L509.2,145.9 L509.2,145.9 L509.4,146.2 L509.9,146.8 L510.3,147.6 L510.9,148.6 L511.5,149.8 L512.1,151.2 L512.7,152.5 L513.2,153.9 L513.7,155.5 L514.3,157.4 L514.8,159.4 L515.4,161.5 L516.0,163.6 L516.6,165.7 L517.2,167.7 L517.8,169.3 L518.4,170.8 L518.9,172.3 L519.5,173.8 L520.2,175.3 L521.0,176.8 L521.9,178.4 L522.8,180.0 L523.9,181.6 L525.1,183.2 L526.3,184.8 L527.7,186.4 L529.1,188.1 L530.7,189.7 L532.4,191.2 L534.2,192.6 L536.1,193.7 L538.0,194.7 L539.9,195.4 L541.7,196.1 L543.5,196.6 L545.3,197.0 L547.0,197.4 L548.7,197.8 L550.5,198.2 L552.4,198.7 L554.2,199.0 L556.1,199.3 L558.0,199.6 L559.9,199.9 L562.0,200.2 L564.2,200.4 L566.5,200.7 L568.8,201.0 L571.1,201.3 L573.6,201.5 L576.3,201.8 L579.2,202.0 L582.4,202.3 L586.0,202.6 L589.9,202.9 L594.2,203.3 L598.8,203.7 L603.8,204.2 L608.9,204.5 L614.2,204.9 L619.6,205.1 L625.1,205.1 L630.7,204.9 L636.7,204.6 L642.7,204.1 L648.8,203.5 L654.7,203.0 L660.3,202.5 L665.5,202.2 L670.1,202.0 L674.2,202.0 L677.8,202.1 L681.1,202.4 L684.2,202.6 L687.3,203.0 L690.3,203.4 L693.6,203.7 L697.0,204.1 L700.4,204.4 L703.8,204.8 L707.2,205.1 L710.7,205.5 L714.1,205.9 L717.6,206.3 L721.1,206.7 L724.7,207.0 L728.1,207.3 L731.6,207.6 L735.1,207.8 L738.6,208.1 L742.1,208.3 L745.7,208.5 L749.3,208.5 L752.9,208.5 L756.5,208.4 L760.0,208.2 L763.5,207.9 L766.9,207.5 L770.4,207.1 L773.9,206.7 L777.5,206.2 L781.3,205.6 L785.3,205.0 L789.5,204.2 L793.7,203.4 L798.0,202.5 L802.2,201.6 L806.4,200.8 L810.4,200.1 L814.4,199.4 L818.3,198.9 L822.1,198.3 L825.8,197.8 L829.5,197.4 L833.1,197.0 L836.7,196.7 L840.2,196.6 L843.8,196.5 L847.3,196.6 L850.8,196.9 L854.4,197.3 L858.1,197.7 L861.8,198.3 L865.7,198.8 L869.6,199.3 L873.5,199.7 L877.4,200.0 L881.2,200.2 L884.9,200.4 L888.6,200.6 L892.4,200.8 L896.2,201.0 L900.0,201.2 L904.0,201.5 L908.4,201.8 L913.3,202.2 L918.4,202.6 L923.6,203.1 L928.5,203.5 L932.9,203.9 L936.7,204.2 L939.4,204.5 L940.6,191.5 L937.8,191.3 L934.1,191.0 L929.6,190.6 L924.7,190.1 L919.6,189.7 L914.4,189.3 L909.4,188.9 L905.0,188.5 L900.9,188.2 L896.9,188.0 L893.1,187.8 L889.3,187.6 L885.6,187.4 L882.0,187.2 L878.3,187.0 L874.7,186.7 L871.0,186.4 L867.4,185.9 L863.6,185.4 L859.8,184.9 L855.9,184.4 L852.0,183.9 L847.9,183.6 L843.8,183.5 L839.8,183.6 L835.9,183.8 L831.9,184.1 L828.1,184.5 L824.2,184.9 L820.3,185.4 L816.4,186.0 L812.4,186.6 L808.3,187.2 L804.0,188.0 L799.7,188.9 L795.4,189.7 L791.1,190.6 L787.0,191.4 L783.1,192.2 L779.3,192.8 L775.7,193.3 L772.2,193.8 L768.8,194.2 L765.5,194.6 L762.3,194.9 L759.1,195.2 L755.9,195.4 L752.7,195.5 L749.4,195.5 L746.1,195.5 L742.8,195.3 L739.4,195.1 L736.1,194.9 L732.6,194.6 L729.2,194.3 L725.7,194.0 L722.4,193.7 L719.0,193.4 L715.6,193.0 L712.1,192.6 L708.7,192.2 L705.2,191.8 L701.7,191.5 L698.2,191.1 L695.0,190.8 L691.9,190.4 L688.8,190.1 L685.5,189.7 L682.1,189.4 L678.4,189.1 L674.4,189.0 L669.9,189.0 L664.8,189.2 L659.3,189.6 L653.5,190.1 L647.6,190.6 L641.6,191.1 L635.7,191.6 L630.1,192.0 L624.9,192.1 L619.9,192.1 L614.8,191.9 L609.8,191.6 L604.8,191.2 L600.0,190.8 L595.4,190.4 L591.0,190.0 L587.0,189.6 L583.5,189.3 L580.3,189.1 L577.5,188.8 L574.9,188.6 L572.5,188.3 L570.2,188.1 L568.0,187.8 L565.8,187.6 L563.7,187.3 L561.7,187.0 L559.8,186.8 L558.1,186.5 L556.6,186.2 L555.0,185.9 L553.6,185.6 L552.1,185.2 L550.5,184.7 L549.0,184.2 L547.7,183.7 L546.4,183.2 L545.3,182.6 L544.3,182.1 L543.5,181.5 L542.6,180.8 L541.8,180.1 L540.8,179.2 L539.7,178.2 L538.7,177.0 L537.7,175.8 L536.7,174.5 L535.8,173.2 L535.0,172.0 L534.3,171.0 L533.8,170.0 L533.3,169.1 L532.9,168.1 L532.5,167.1 L532.0,165.8 L531.5,164.4 L531.0,162.9 L530.4,161.4 L529.9,159.6 L529.4,157.7 L528.8,155.6 L528.2,153.4 L527.6,151.3 L526.9,149.1 L526.1,147.1 L525.4,145.3 L524.6,143.7 L523.8,142.0 L522.9,140.4 L521.9,138.7 L520.8,137.2 L519.4,135.6 L517.6,134.1 L515.5,132.9 L513.3,132.1 L511.3,131.7 L509.4,131.6 L507.8,131.6 L506.4,131.8 L505.3,131.9 L504.3,132.0 L503.4,132.1 L502.2,132.1 L500.9,132.3 L499.3,132.5 L497.5,132.9 L495.6,133.6 L493.7,134.7 L491.8,136.1 L490.3,137.8 L489.0,139.4 L488.0,141.1 L487.1,142.8 L486.3,144.4 L485.6,146.0 L484.9,147.6 L484.2,149.3 L483.3,151.2 L482.5,153.3 L481.7,155.5 L481.0,157.6 L480.2,159.7 L479.5,161.6 L478.9,163.2 L478.3,164.6 L477.7,165.7 L477.1,166.7 L476.5,167.6 L476.0,168.5 L475.4,169.3 L474.7,170.2 L474.0,171.1 L473.2,172.2 L472.4,173.2 L471.7,174.2 L471.1,175.0 L470.5,175.8 L469.9,176.5 L469.3,177.2 L468.8,177.8 L468.2,178.3 L467.5,178.8 L466.8,179.4 L465.9,179.9 L464.9,180.5 L463.8,181.2 L462.6,181.9 L461.4,182.6 L460.2,183.3 L459.0,184.1 L457.8,184.9 L456.6,185.7 L455.5,186.5 L454.4,187.2 L453.4,187.8 L452.5,188.4 L451.9,188.7 L451.4,189.0 L451.3,189.2 L451.2,189.2 L451.1,189.3 L450.8,189.4 L450.1,189.6 L449.2,189.9 L448.1,190.3 L447.0,190.6 L446.0,191.0 L444.9,191.3 L443.9,191.7 L442.8,192.1 L441.6,192.4 L440.2,192.8 L438.6,193.1 L436.8,193.5 L434.6,193.9 L432.2,194.3 L429.6,194.7 L426.8,195.1 L424.0,195.6 L421.3,196.1 L418.6,196.7 L415.9,197.3 L413.3,198.0 L410.6,198.8 L408.1,199.5 L405.6,200.3 L403.2,201.0 L401.1,201.7 L399.1,202.3 L397.3,202.8 L395.7,203.3 L394.3,203.8 L392.9,204.2 L391.7,204.6 L390.5,205.0 L389.3,205.4 L388.1,205.8 L386.8,206.2 L385.6,206.5 L384.3,206.9 L383.1,207.3 L381.8,207.6 L380.5,208.0 L379.2,208.4 L377.9,208.8 L376.8,209.2 L375.6,209.6 L374.5,210.0 L373.2,210.4 L371.9,210.9 L370.6,211.4 L369.2,212.1 L367.8,212.9 L366.2,213.8 L364.8,214.9 L363.5,215.9 L362.4,216.8 L361.4,217.7 L360.5,218.3 L359.9,218.8 L359.3,219.1 L358.6,219.4 L357.7,219.6 L356.8,219.9 L355.8,220.1 L354.8,220.2 L353.7,220.4 L352.7,220.4 L351.6,220.5 L350.6,220.6 L349.7,220.6 L348.9,220.6 L348.2,220.5 L347.6,220.5 L347.3,220.4 L347.3,220.4 L347.4,220.5 L347.7,220.7 L348.0,220.9 L348.1,221.1 L348.1,221.1 L348.0,220.8 L347.8,220.2 L347.6,219.3 L347.3,218.4 L347.1,217.4 L346.8,216.2 L346.6,214.9 L346.4,213.4 L346.1,211.8 L345.9,210.1 L345.7,208.5 L345.4,206.9 L345.2,205.5 L344.9,204.0 L344.7,202.6 L344.4,201.1 L344.2,199.7 L343.9,198.3 L343.6,196.9 L343.3,195.6 L343.1,194.3 L342.8,193.2 L342.5,192.0 L342.2,190.7 L341.8,189.4 L341.3,188.1 L340.7,186.8 L339.9,185.4 L339.0,184.2 L338.0,183.1 L336.8,182.2 L335.5,181.4 L334.3,180.9 L333.2,180.6 L332.2,180.3 L331.2,180.1 L330.0,179.9 L328.7,179.8 L327.4,179.7 L326.2,179.7 L324.9,179.7 L323.6,179.8 L322.4,179.9 L321.2,180.0 L320.1,180.2 L319.0,180.4 L317.7,180.6 L316.5,180.8 L315.1,181.1 L313.8,181.6 L312.4,182.1 L310.9,182.8 L309.5,183.6 L308.3,184.5 L307.2,185.5 L306.3,186.4 L305.4,187.2 L304.7,188.0 L304.0,188.8 L303.3,189.5 L302.5,190.3 L301.7,191.3 L300.9,192.2 L300.1,193.0 L299.4,193.8 L298.7,194.6 L298.1,195.2 L297.6,195.7 L297.0,196.3 L296.4,196.8 L295.8,197.3 L295.1,197.7 L294.5,198.2 L293.9,198.6 L293.2,199.1 L292.6,199.5 L292.0,199.8 L291.4,200.2 L290.8,200.5 L290.1,200.8 L289.4,201.1 L288.7,201.4 L288.0,201.8 L287.4,202.1 L286.9,202.3 L286.4,202.4 L285.9,202.6 L285.3,202.8 L284.6,203.1 L283.8,203.4 L282.9,203.8 L282.1,204.2 L281.5,204.5 L280.9,204.8 L280.1,205.2 L279.1,205.7 L278.1,206.3 L277.0,207.1 L275.8,208.0 L274.8,209.0 L273.9,210.1 L273.0,211.1 L272.1,212.3 L271.3,213.5 L270.4,214.8 L269.6,216.2 L268.8,217.8 L268.1,219.4 L267.3,221.1 L266.7,222.9 L266.0,224.8 L265.4,226.7 L264.8,228.7 L264.3,230.6 L263.8,232.4 L263.2,234.2 L262.7,236.1 L262.2,238.0 L261.8,239.9 L261.3,241.7 L260.9,243.5 L260.5,245.3 L260.1,246.9 L259.7,248.4 L259.5,249.9 L259.2,251.3 L259.0,252.6 L258.8,253.9 L258.6,255.1 L258.4,256.4 L258.3,257.6 L258.1,258.8 L258.0,260.1 L257.9,261.3 L257.8,262.6 L257.7,263.7 L257.6,264.8 L257.6,265.8 L257.6,266.6 L257.6,267.2 Z" fill="#ff00ff" />
<path d="M248,264 L268.8,264 L267.5,292 L264.9,318 L263.6,344 L261,360 L254.5,360 L252,344 L250.6,318 L249.3,292 Z" fill="#ff00ff" opacity="0.68"/>
<line x1="258.1" y1="355" x2="258.1" y2="411" stroke="#ff00ff" stroke-width="2.2"/>
<path d="M252,386 L262,396 M262,386 L252,396 M257,385 L257,397" stroke="#ff00ff" stroke-width="1.8" opacity="0.75"/>
<path d="M254.5,392 L264.5,402 M264.5,392 L254.5,402 M259.5,391 L259.5,403" stroke="#ff00ff" stroke-width="1.8" opacity="0.75"/>
<path d="M252,398 L262,408 M262,398 L252,408 M257,397 L257,409" stroke="#ff00ff" stroke-width="1.8" opacity="0.75"/>
<path d="M254,404 L264,414 M264,404 L254,414 M259,403 L259,415" stroke="#ff00ff" stroke-width="1.8" opacity="0.75"/>
<path d="M195.4,226.9 L195.9,227.7 L196.5,228.6 L197.2,229.8 L198.0,231.0 L198.8,232.4 L199.7,233.8 L200.6,235.3 L201.4,236.6 L202.3,238.0 L203.2,239.5 L204.1,241.0 L205.0,242.6 L206.0,244.2 L207.0,245.8 L208.1,247.4 L209.2,249.1 L210.3,250.7 L211.5,252.3 L212.6,253.8 L213.8,255.4 L215.0,256.9 L216.2,258.4 L217.3,259.9 L218.4,261.4 L219.6,262.9 L220.7,264.4 L221.9,265.9 L223.1,267.5 L224.2,269.0 L225.3,270.5 L226.4,271.9 L227.5,273.3 L228.6,274.8 L229.6,276.2 L230.7,277.6 L231.7,279.0 L232.7,280.3 L233.6,281.7 L234.5,283.0 L235.4,284.2 L236.2,285.4 L237.0,286.5 L237.7,287.6 L238.4,288.7 L239.2,289.8 L239.9,290.9 L240.6,292.0 L241.3,293.1 L242.1,294.2 L242.9,295.4 L243.6,296.5 L244.4,297.6 L245.1,298.7 L245.8,299.8 L246.5,300.9 L247.3,302.0 L248.0,303.2 L248.8,304.4 L249.5,305.6 L250.3,306.8 L251.0,308.0 L251.7,309.2 L252.4,310.4 L253.0,311.6 L253.7,312.8 L254.3,314.1 L254.9,315.3 L255.5,316.6 L256.0,317.9 L256.6,319.3 L257.2,320.7 L257.8,322.1 L258.4,323.6 L259.0,325.2 L259.6,326.8 L260.3,328.4 L260.9,330.1 L261.5,331.8 L262.2,333.4 L262.8,335.1 L263.6,336.6 L264.4,338.1 L265.2,339.6 L266.0,341.1 L266.8,342.6 L267.6,344.0 L268.4,345.4 L269.1,346.8 L269.8,348.1 L270.6,349.3 L271.2,350.4 L271.9,351.5 L272.6,352.5 L273.2,353.5 L273.7,354.4 L274.3,355.4 L274.8,356.4 L275.3,357.5 L275.8,358.5 L276.2,359.6 L276.7,360.7 L277.2,361.8 L277.7,362.9 L278.2,364.1 L278.7,365.3 L279.3,366.4 L279.8,367.5 L280.4,368.7 L280.9,369.8 L281.5,371.1 L282.1,372.4 L282.6,373.9 L283.3,375.5 L283.9,377.2 L284.6,379.1 L285.3,381.0 L286.0,383.0 L286.6,384.9 L287.3,386.8 L287.8,388.6 L288.4,390.4 L288.9,392.2 L289.4,393.9 L289.9,395.6 L290.3,397.4 L290.8,399.1 L291.2,400.7 L291.5,402.4 L291.9,404.1 L292.2,405.7 L292.5,407.4 L292.8,409.0 L293.1,410.6 L293.3,412.2 L293.5,413.8 L293.8,415.2 L294.0,416.7 L294.2,418.1 L294.3,419.6 L294.5,421.0 L294.7,422.3 L294.8,423.4 L294.9,424.4 L295.0,425.1 L298.0,424.9 L298.0,424.1 L297.9,423.1 L297.8,422.0 L297.7,420.7 L297.6,419.2 L297.5,417.8 L297.4,416.3 L297.2,414.8 L297.1,413.3 L296.9,411.7 L296.7,410.1 L296.5,408.5 L296.3,406.8 L296.0,405.1 L295.8,403.3 L295.5,401.6 L295.1,399.9 L294.8,398.1 L294.4,396.4 L294.0,394.6 L293.6,392.8 L293.1,391.0 L292.7,389.2 L292.2,387.4 L291.6,385.5 L291.0,383.5 L290.4,381.5 L289.8,379.5 L289.1,377.5 L288.5,375.6 L287.9,373.8 L287.4,372.1 L286.8,370.6 L286.4,369.2 L285.9,367.8 L285.4,366.6 L285.0,365.4 L284.6,364.2 L284.2,363.1 L283.8,361.9 L283.4,360.7 L283.0,359.6 L282.7,358.4 L282.3,357.3 L282.0,356.1 L281.6,355.0 L281.2,353.8 L280.7,352.6 L280.2,351.3 L279.7,350.2 L279.3,349.0 L278.8,347.9 L278.3,346.8 L277.8,345.6 L277.3,344.5 L276.9,343.2 L276.4,341.9 L276.0,340.4 L275.5,338.9 L275.1,337.4 L274.6,335.8 L274.1,334.2 L273.7,332.5 L273.2,330.9 L272.6,329.4 L272.0,327.8 L271.4,326.1 L270.7,324.5 L270.1,322.8 L269.5,321.1 L268.8,319.5 L268.2,317.9 L267.5,316.3 L266.9,314.9 L266.3,313.4 L265.7,312.0 L265.0,310.6 L264.4,309.2 L263.7,307.8 L263.0,306.4 L262.2,305.0 L261.4,303.6 L260.6,302.3 L259.8,301.0 L259.0,299.7 L258.3,298.4 L257.5,297.2 L256.7,296.0 L256.0,294.8 L255.2,293.6 L254.4,292.4 L253.6,291.3 L252.9,290.2 L252.1,289.1 L251.4,288.0 L250.7,286.9 L249.9,285.8 L249.2,284.7 L248.5,283.6 L247.8,282.5 L247.1,281.4 L246.3,280.3 L245.5,279.1 L244.6,277.8 L243.7,276.5 L242.7,275.2 L241.7,273.8 L240.7,272.4 L239.7,271.0 L238.6,269.5 L237.6,268.1 L236.5,266.7 L235.4,265.2 L234.3,263.7 L233.1,262.2 L232.0,260.7 L230.8,259.2 L229.7,257.6 L228.5,256.1 L227.4,254.6 L226.2,253.1 L225.0,251.6 L223.9,250.1 L222.7,248.6 L221.6,247.1 L220.5,245.6 L219.4,244.2 L218.4,242.7 L217.4,241.3 L216.5,239.8 L215.5,238.3 L214.6,236.7 L213.7,235.2 L212.7,233.7 L211.8,232.2 L211.0,230.8 L210.1,229.4 L209.2,227.9 L208.3,226.5 L207.5,225.1 L206.7,223.9 L206.0,222.7 L205.4,221.8 L205.0,221.1 Z" fill="#ff0000" />
<path d="M300.0,420.3 L300.4,419.2 L300.9,417.6 L301.4,415.7 L302.1,413.6 L302.7,411.4 L303.3,409.3 L303.9,407.3 L304.4,405.5 L304.9,404.0 L305.2,402.7 L305.6,401.4 L305.9,400.2 L306.2,399.1 L306.5,398.0 L306.9,396.8 L307.2,395.6 L307.5,394.4 L307.9,393.2 L308.2,392.1 L308.5,390.9 L308.8,389.7 L309.2,388.5 L309.5,387.2 L309.9,385.8 L310.3,384.3 L310.8,382.7 L311.2,381.0 L311.7,379.3 L312.2,377.6 L312.7,376.0 L313.1,374.6 L313.6,373.4 L313.9,372.4 L314.3,371.6 L314.6,371.0 L315.0,370.4 L315.3,369.8 L315.8,369.0 L316.3,368.1 L316.8,367.1 L317.3,366.0 L317.8,364.9 L318.3,363.9 L318.8,362.8 L319.3,361.7 L319.8,360.7 L320.4,359.6 L320.9,358.6 L321.5,357.6 L322.1,356.5 L322.7,355.5 L323.3,354.5 L324.0,353.4 L324.8,352.3 L325.6,351.1 L326.5,349.8 L327.6,348.3 L328.7,346.7 L329.9,345.1 L331.1,343.5 L332.4,341.9 L333.7,340.4 L335.0,339.0 L336.4,337.6 L337.9,336.3 L339.6,334.9 L341.3,333.6 L343.1,332.3 L344.9,331.1 L346.9,329.9 L348.9,328.7 L351.0,327.6 L353.3,326.5 L355.6,325.5 L358.0,324.5 L360.4,323.5 L363.0,322.6 L365.7,321.7 L368.5,320.8 L371.3,320.0 L374.3,319.2 L377.5,318.5 L380.8,317.8 L384.3,317.1 L387.8,316.5 L391.1,315.9 L394.4,315.3 L397.4,314.8 L400.1,314.3 L402.6,313.9 L404.9,313.5 L407.0,313.1 L409.1,312.9 L411.1,312.6 L413.1,312.5 L415.1,312.4 L417.2,312.4 L419.2,312.5 L421.3,312.7 L423.5,312.9 L425.7,313.2 L428.1,313.5 L430.5,313.8 L433.0,314.1 L435.6,314.3 L438.1,314.5 L440.7,314.8 L443.2,315.0 L445.9,315.2 L448.6,315.5 L451.3,315.8 L454.2,316.2 L457.3,316.6 L460.5,317.0 L463.9,317.5 L467.4,318.0 L470.8,318.5 L474.2,319.1 L477.5,319.6 L480.6,320.1 L483.5,320.6 L486.3,321.1 L489.0,321.5 L491.5,321.9 L494.0,322.4 L496.4,322.8 L498.9,323.4 L501.3,324.0 L503.8,324.7 L506.4,325.6 L509.0,326.5 L511.6,327.4 L514.2,328.4 L516.9,329.4 L519.6,330.4 L522.2,331.3 L524.7,332.1 L527.2,333.0 L529.6,333.8 L532.1,334.5 L534.4,335.3 L536.8,336.0 L539.2,336.7 L541.5,337.4 L543.8,338.0 L546.1,338.6 L548.4,339.2 L550.6,339.7 L552.8,340.2 L554.9,340.7 L556.9,341.1 L558.9,341.5 L560.8,341.9 L562.6,342.1 L564.3,342.4 L565.8,342.6 L567.3,342.7 L568.7,342.9 L570.3,343.2 L571.9,343.5 L573.8,343.9 L575.8,344.3 L577.8,344.8 L580.0,345.3 L582.2,345.9 L584.4,346.4 L586.6,346.9 L588.7,347.4 L590.6,347.9 L592.6,348.4 L594.5,349.0 L596.4,349.5 L598.4,350.0 L600.5,350.5 L602.6,351.0 L604.9,351.5 L607.2,351.9 L609.6,352.4 L612.0,352.8 L614.5,353.2 L617.0,353.6 L619.5,354.0 L622.0,354.3 L624.4,354.6 L626.9,354.8 L629.2,355.0 L631.6,355.1 L633.8,355.2 L636.1,355.2 L638.3,355.3 L640.6,355.4 L643.0,355.6 L645.5,355.8 L648.1,356.0 L650.8,356.3 L653.6,356.5 L656.3,356.8 L659.1,357.0 L661.8,357.3 L664.5,357.6 L667.1,357.8 L669.6,358.1 L672.1,358.3 L674.6,358.5 L677.0,358.7 L679.4,359.0 L681.9,359.3 L684.3,359.6 L686.7,359.9 L689.2,360.2 L691.6,360.6 L694.1,361.0 L696.6,361.4 L699.1,361.8 L701.6,362.2 L704.2,362.5 L706.8,362.9 L709.3,363.3 L712.0,363.7 L714.6,364.1 L717.3,364.5 L720.0,364.9 L722.7,365.2 L725.3,365.6 L728.0,365.9 L730.6,366.2 L733.3,366.5 L736.0,366.8 L738.7,367.0 L741.3,367.2 L744.0,367.4 L746.7,367.6 L749.4,367.7 L752.0,367.8 L754.7,367.8 L757.3,367.9 L759.9,367.8 L762.5,367.8 L765.1,367.7 L767.8,367.6 L770.5,367.4 L773.1,367.2 L775.7,367.0 L778.3,366.7 L780.9,366.4 L783.5,366.1 L786.0,365.8 L788.6,365.6 L791.1,365.3 L793.7,365.1 L796.4,364.8 L799.0,364.6 L801.6,364.3 L804.3,364.1 L806.9,363.8 L809.5,363.6 L812.2,363.3 L814.8,363.0 L817.5,362.8 L820.1,362.5 L822.7,362.3 L825.3,362.0 L827.9,361.8 L830.4,361.6 L832.9,361.4 L835.4,361.2 L837.9,361.1 L840.3,360.9 L842.7,360.8 L845.1,360.7 L847.6,360.6 L850.0,360.6 L852.5,360.6 L855.0,360.7 L857.6,360.8 L860.1,360.9 L862.7,361.1 L865.4,361.2 L868.0,361.4 L870.6,361.6 L873.1,361.8 L875.7,362.0 L878.3,362.3 L881.0,362.6 L883.6,362.9 L886.3,363.2 L889.0,363.4 L891.6,363.6 L894.3,363.7 L896.8,363.8 L899.2,363.9 L901.7,363.9 L904.1,364.0 L906.6,364.0 L909.2,364.0 L911.9,364.1 L914.9,364.2 L918.4,364.2 L922.0,364.3 L925.6,364.4 L929.1,364.4 L932.3,364.5 L934.9,364.6 L936.9,364.6 L937.1,353.4 L935.1,353.4 L932.5,353.3 L929.3,353.3 L925.9,353.2 L922.2,353.1 L918.6,353.0 L915.2,353.0 L912.1,352.9 L909.4,352.8 L906.7,352.8 L904.3,352.8 L901.8,352.7 L899.5,352.7 L897.1,352.6 L894.8,352.5 L892.4,352.4 L889.9,352.2 L887.4,352.0 L884.8,351.7 L882.2,351.5 L879.5,351.2 L876.8,350.9 L874.1,350.6 L871.4,350.4 L868.8,350.2 L866.1,350.0 L863.4,349.9 L860.7,349.7 L858.0,349.6 L855.4,349.5 L852.7,349.4 L850.0,349.4 L847.4,349.4 L844.8,349.5 L842.2,349.6 L839.7,349.7 L837.2,349.9 L834.7,350.0 L832.1,350.2 L829.6,350.4 L827.0,350.6 L824.3,350.9 L821.7,351.1 L819.0,351.4 L816.4,351.6 L813.7,351.9 L811.1,352.2 L808.5,352.4 L805.8,352.7 L803.2,352.9 L800.6,353.2 L797.9,353.4 L795.3,353.7 L792.7,353.9 L790.1,354.2 L787.4,354.4 L784.8,354.7 L782.2,355.0 L779.6,355.3 L777.1,355.6 L774.6,355.8 L772.1,356.1 L769.7,356.3 L767.2,356.4 L764.7,356.5 L762.2,356.6 L759.8,356.6 L757.3,356.6 L754.8,356.6 L752.3,356.6 L749.8,356.5 L747.3,356.4 L744.8,356.3 L742.2,356.1 L739.7,355.9 L737.1,355.6 L734.5,355.3 L731.9,355.1 L729.3,354.7 L726.7,354.4 L724.1,354.1 L721.5,353.8 L718.9,353.4 L716.3,353.0 L713.6,352.6 L711.0,352.2 L708.4,351.8 L705.8,351.5 L703.3,351.1 L700.8,350.7 L698.3,350.3 L695.8,349.9 L693.3,349.5 L690.8,349.1 L688.3,348.8 L685.7,348.4 L683.2,348.1 L680.6,347.9 L678.1,347.6 L675.6,347.4 L673.1,347.1 L670.6,346.9 L668.1,346.7 L665.5,346.4 L662.9,346.2 L660.2,345.9 L657.4,345.6 L654.6,345.4 L651.9,345.1 L649.1,344.9 L646.4,344.6 L643.8,344.4 L641.3,344.2 L638.8,344.1 L636.5,344.0 L634.2,344.0 L632.0,343.9 L629.9,343.8 L627.8,343.6 L625.6,343.4 L623.3,343.2 L621.0,342.9 L618.6,342.5 L616.2,342.2 L613.9,341.8 L611.6,341.4 L609.3,340.9 L607.1,340.5 L605.1,340.1 L603.1,339.6 L601.2,339.1 L599.3,338.6 L597.4,338.1 L595.4,337.6 L593.4,337.1 L591.3,336.6 L589.2,336.0 L587.1,335.5 L584.9,335.0 L582.6,334.4 L580.4,333.9 L578.2,333.4 L576.1,332.9 L574.1,332.5 L572.2,332.1 L570.4,331.9 L568.7,331.6 L567.2,331.4 L565.7,331.3 L564.3,331.1 L562.7,330.8 L561.1,330.5 L559.2,330.1 L557.3,329.7 L555.2,329.3 L553.1,328.8 L551.0,328.3 L548.9,327.8 L546.7,327.2 L544.5,326.6 L542.3,326.0 L540.1,325.3 L537.8,324.6 L535.5,323.9 L533.1,323.1 L530.7,322.3 L528.3,321.5 L525.8,320.7 L523.3,319.8 L520.8,318.9 L518.2,317.9 L515.5,316.9 L512.7,315.9 L509.9,314.9 L507.1,314.0 L504.3,313.2 L501.5,312.5 L498.8,311.9 L496.1,311.3 L493.4,310.9 L490.8,310.4 L488.1,310.0 L485.3,309.5 L482.4,309.1 L479.3,308.6 L476.0,308.0 L472.5,307.5 L469.0,306.9 L465.5,306.4 L462.1,305.9 L458.8,305.5 L455.6,305.0 L452.6,304.7 L449.7,304.4 L446.9,304.1 L444.3,303.8 L441.6,303.6 L439.1,303.4 L436.6,303.2 L434.2,302.9 L431.8,302.7 L429.5,302.4 L427.1,302.1 L424.8,301.8 L422.4,301.5 L420.0,301.3 L417.5,301.2 L414.9,301.2 L412.4,301.3 L410.0,301.5 L407.7,301.8 L405.4,302.1 L403.0,302.4 L400.6,302.9 L398.1,303.3 L395.4,303.8 L392.5,304.3 L389.2,304.8 L385.8,305.5 L382.2,306.1 L378.6,306.8 L375.1,307.6 L371.6,308.3 L368.3,309.2 L365.2,310.1 L362.3,311.0 L359.4,312.0 L356.5,313.0 L353.8,314.1 L351.1,315.2 L348.5,316.4 L346.0,317.6 L343.5,318.9 L341.1,320.3 L338.9,321.7 L336.7,323.1 L334.6,324.6 L332.6,326.2 L330.7,327.7 L328.8,329.4 L327.0,331.1 L325.3,333.0 L323.7,334.8 L322.2,336.7 L320.9,338.5 L319.7,340.2 L318.5,341.8 L317.5,343.2 L316.5,344.6 L315.5,346.0 L314.6,347.3 L313.8,348.5 L313.1,349.8 L312.4,351.0 L311.7,352.1 L311.1,353.4 L310.4,354.7 L309.8,356.0 L309.3,357.3 L308.8,358.5 L308.4,359.7 L307.9,360.9 L307.6,361.9 L307.2,362.9 L306.9,363.7 L306.6,364.5 L306.3,365.3 L305.9,366.1 L305.6,367.0 L305.2,368.1 L304.8,369.3 L304.4,370.6 L304.1,372.2 L303.8,373.8 L303.5,375.6 L303.2,377.4 L302.9,379.2 L302.6,380.9 L302.3,382.6 L302.1,384.2 L301.9,385.6 L301.7,386.9 L301.5,388.2 L301.4,389.5 L301.2,390.7 L301.1,391.9 L301.0,393.1 L300.8,394.4 L300.7,395.6 L300.5,396.8 L300.4,398.0 L300.3,399.1 L300.1,400.3 L300.0,401.6 L299.8,403.0 L299.6,404.5 L299.3,406.2 L299.0,408.2 L298.6,410.4 L298.2,412.7 L297.8,414.8 L297.5,416.8 L297.2,418.4 L297.0,419.7 Z" fill="#ff0000" />
<line x1="297.6" y1="420" x2="297.6" y2="545" stroke="#ff0000" stroke-width="2"/>
<circle cx="293.5" cy="418.0" r="4.6" fill="none" stroke="#ff2020" stroke-width="1.5"/>
<circle cx="298.0" cy="426.4" r="4.6" fill="none" stroke="#ff2020" stroke-width="1.5"/>
<circle cx="301.0" cy="436.8" r="4.6" fill="none" stroke="#ff2020" stroke-width="1.5"/>
<circle cx="295.5" cy="442.0" r="4.6" fill="none" stroke="#ff2020" stroke-width="1.5"/>
<circle cx="297.8" cy="455.0" r="4.6" fill="none" stroke="#ff2020" stroke-width="1.5"/>
<circle cx="297.8" cy="482.3" r="4.6" fill="none" stroke="#ff2020" stroke-width="1.5"/>
<circle cx="297.8" cy="529.0" r="4.6" fill="none" stroke="#ff2020" stroke-width="1.5"/>
<circle cx="297.3" cy="548.6" r="4.6" fill="none" stroke="#ff2020" stroke-width="1.5"/>
<path d="M274.5,318.4 L274.8,320.6 L275.1,323.5 L275.5,326.9 L275.9,330.8 L276.4,334.8 L276.8,338.8 L277.2,342.7 L277.5,346.3 L277.8,349.6 L278.1,353.0 L278.3,356.4 L278.6,359.7 L278.8,363.0 L279.0,366.2 L279.3,369.3 L279.5,372.2 L279.8,375.1 L280.2,377.8 L280.5,380.5 L280.9,383.1 L281.2,385.5 L281.5,387.8 L281.8,390.0 L282.0,392.1 L282.1,394.1 L282.2,396.1 L282.3,398.0 L282.3,399.7 L282.4,401.3 L282.4,402.8 L282.4,404.0 L282.5,405.0 L286.5,405.0 L286.6,404.1 L286.7,402.9 L286.8,401.4 L286.8,399.8 L286.9,398.0 L287.0,396.0 L287.0,394.0 L287.0,391.9 L287.0,389.7 L287.0,387.4 L286.9,385.0 L286.8,382.6 L286.7,380.0 L286.6,377.3 L286.6,374.6 L286.5,371.8 L286.4,368.8 L286.3,365.8 L286.2,362.6 L286.1,359.3 L285.9,356.0 L285.8,352.6 L285.7,349.1 L285.5,345.7 L285.3,342.1 L285.0,338.1 L284.7,334.0 L284.4,330.0 L284.1,326.1 L283.8,322.7 L283.6,319.8 L283.5,317.6 Z" fill="#00ffff" opacity="0.9"/>
<path d="M279,318 L293,312 L290.5,335 L288,360 L286,380 L284.6,402 L283,372 L281.5,346 Z" fill="#00ffff" opacity="0.9"/>
<rect x="126.4" y="5" width="883.6" height="786.6" fill="none" stroke="#111" stroke-width="3"/><line x1="126" y1="30.1" x2="140.5" y2="30.1" stroke="#111" stroke-width="3"/><text transform="translate(111.8,41.6) scale(0.81,1)" text-anchor="end" class="t">-2</text><line x1="126" y1="131.7" x2="140.5" y2="131.7" stroke="#111" stroke-width="3"/><text transform="translate(111.8,143.2) scale(0.81,1)" text-anchor="end" class="t">-3</text><line x1="126" y1="233.3" x2="140.5" y2="233.3" stroke="#111" stroke-width="3"/><text transform="translate(111.8,244.8) scale(0.81,1)" text-anchor="end" class="t">-4</text><line x1="126" y1="334.9" x2="140.5" y2="334.9" stroke="#111" stroke-width="3"/><text transform="translate(111.8,346.4) scale(0.81,1)" text-anchor="end" class="t">-5</text><line x1="126" y1="436.5" x2="140.5" y2="436.5" stroke="#111" stroke-width="3"/><text transform="translate(111.8,448.0) scale(0.81,1)" text-anchor="end" class="t">-6</text><line x1="126" y1="538.1" x2="140.5" y2="538.1" stroke="#111" stroke-width="3"/><text transform="translate(111.8,549.6) scale(0.81,1)" text-anchor="end" class="t">-7</text><line x1="126" y1="639.7" x2="140.5" y2="639.7" stroke="#111" stroke-width="3"/><text transform="translate(111.8,651.2) scale(0.81,1)" text-anchor="end" class="t">-8</text><line x1="126" y1="741.3" x2="140.5" y2="741.3" stroke="#111" stroke-width="3"/><text transform="translate(111.8,752.8) scale(0.81,1)" text-anchor="end" class="t">-9</text><line x1="199.9" y1="791" x2="199.9" y2="777" stroke="#111" stroke-width="3"/><text transform="translate(199.4,842.2) scale(0.81,1)" text-anchor="middle" class="t">-1.0</text><line x1="347.2" y1="791" x2="347.2" y2="777" stroke="#111" stroke-width="3"/><text transform="translate(346.7,842.2) scale(0.81,1)" text-anchor="middle" class="t">-0.8</text><line x1="494.5" y1="791" x2="494.5" y2="777" stroke="#111" stroke-width="3"/><text transform="translate(494.0,842.2) scale(0.81,1)" text-anchor="middle" class="t">-0.6</text><line x1="641.7" y1="791" x2="641.7" y2="777" stroke="#111" stroke-width="3"/><text transform="translate(641.2,842.2) scale(0.81,1)" text-anchor="middle" class="t">-0.4</text><line x1="789.0" y1="791" x2="789.0" y2="777" stroke="#111" stroke-width="3"/><text transform="translate(788.5,842.2) scale(0.81,1)" text-anchor="middle" class="t">-0.2</text><line x1="936.3" y1="791" x2="936.3" y2="777" stroke="#111" stroke-width="3"/><text transform="translate(935.8,842.2) scale(0.81,1)" text-anchor="middle" class="t">0.0</text>
<line x1="727.4" y1="455.0" x2="747" y2="455.0" stroke="#5a5aff" stroke-width="2.4"/>
<line x1="768.5" y1="455.0" x2="788.5" y2="455.0" stroke="#5a5aff" stroke-width="2.4"/>
<path d="M758.3,461.5 L763.3,450.0 L753.3,450.0 Z" fill="none" stroke="#4444ff" stroke-width="2"/>
<text transform="translate(796,465.3) scale(0.82,1)" class="lg">Co</text>
<text transform="translate(830.5,478.3) scale(0.85,1)" class="lgs">0.0</text>
<line x1="727.4" y1="504.6" x2="747" y2="504.6" stroke="#7a7a7a" stroke-width="2.4"/>
<line x1="768.5" y1="504.6" x2="788.5" y2="504.6" stroke="#7a7a7a" stroke-width="2.4"/>
<rect x="753.8" y="500.1" width="9" height="9" fill="#000"/>
<text transform="translate(796,515.7) scale(0.82,1)" class="lg">Co</text>
<text transform="translate(830.5,528.7) scale(0.85,1)" class="lgs">0.5</text>
<line x1="727.4" y1="556.0" x2="747" y2="556.0" stroke="#44ee44" stroke-width="2.4"/>
<line x1="768.5" y1="556.0" x2="788.5" y2="556.0" stroke="#44ee44" stroke-width="2.4"/>
<path d="M758.3,550.5 L763.3,560.5 L753.3,560.5 Z" fill="none" stroke="#22ee22" stroke-width="2"/>
<text transform="translate(796,566.1) scale(0.82,1)" class="lg">Co</text>
<text transform="translate(830.5,579.1) scale(0.85,1)" class="lgs">1.0</text>
<line x1="727.4" y1="605.5" x2="747" y2="605.5" stroke="#44eeff" stroke-width="2.4"/>
<line x1="768.5" y1="605.5" x2="788.5" y2="605.5" stroke="#44eeff" stroke-width="2.4"/>
<path d="M758.3,599.0 L760.8,603.0 L763.3,605.5 L760.8,608.0 L758.3,613.0 L755.8,608.0 L753.3,605.5 L755.8,603.0 Z" fill="#22eeff" stroke="#22eeff" stroke-width="1.5" stroke-linejoin="round"/>
<text transform="translate(796,616.5) scale(0.82,1)" class="lg">Co</text>
<text transform="translate(830.5,629.5) scale(0.85,1)" class="lgs">1.5</text>
<line x1="727.4" y1="656.9" x2="747" y2="656.9" stroke="#ff5a5a" stroke-width="2.4"/>
<line x1="768.5" y1="656.9" x2="788.5" y2="656.9" stroke="#ff5a5a" stroke-width="2.4"/>
<path d="M758.3,651.4 L762.3,656.9 L758.3,662.4 L754.3,656.9 Z" fill="none" stroke="#ff4444" stroke-width="2.2" stroke-linejoin="round"/>
<text transform="translate(796,666.9) scale(0.82,1)" class="lg">Co</text>
<text transform="translate(830.5,679.9) scale(0.85,1)" class="lgs">2.0</text>
<line x1="727.4" y1="706.9" x2="747" y2="706.9" stroke="#ff44ff" stroke-width="2.4"/>
<line x1="768.5" y1="706.9" x2="788.5" y2="706.9" stroke="#ff44ff" stroke-width="2.4"/>
<g stroke="#ff22ff" stroke-width="2.2" fill="none"><path d="M752.3,699.9 L764.3,713.9 M764.3,699.9 L752.3,713.9 M755.3,706.9 L761.3,706.9"/></g><rect x="754.8" y="702.9" width="7" height="8" fill="#ff22ff"/>
<text transform="translate(796,717.3) scale(0.86,1)" class="lg">Q235 Steel</text>
<text transform="translate(436,909.5) scale(0.873,1)" class="xt" font-style="italic">E</text><text transform="translate(471,909.5) scale(0.873,1)" class="xt">(V)</text><text transform="translate(547,909.5) scale(0.873,1)" class="xt">vs</text><text transform="translate(618.5,909.5) scale(0.873,1)" class="xt">SCE</text>
<text transform="translate(49,655.5) rotate(-90) scale(1.18,1)" class="yt" >log(<tspan font-style="italic">i</tspan>/<tspan font-style="italic">A</tspan></text><text transform="translate(49,520) rotate(-90) scale(1.18,1)" class="yt" >)</text><text transform="translate(49,477) rotate(-90) scale(1.18,1)" class="yt" >(mA</text><text transform="translate(46.5,372) rotate(-90) scale(1.18,1)" class="yt" >&#8226;</text><text transform="translate(49,312) rotate(-90) scale(1.18,1)" class="yt" >cm</text><text transform="translate(33.2,249) rotate(-90) scale(1.18,1)" class="yt" style="font-size:44.5px">-2</text><text transform="translate(49,190) rotate(-90) scale(1.18,1)" class="yt" >)</text>
</svg>
</body></html>
